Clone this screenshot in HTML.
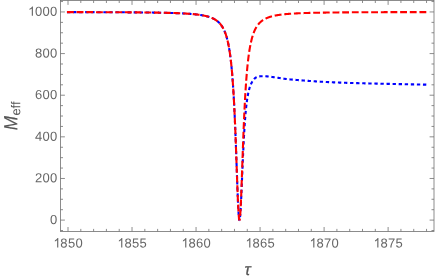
<!DOCTYPE html>
<html><head><meta charset="utf-8"><title>plot</title>
<style>
html,body{margin:0;padding:0;background:#fff;}
body{width:436px;height:280px;overflow:hidden;}
svg{display:block;font-family:"Liberation Sans",sans-serif;will-change:transform;}
</style></head><body>
<svg width="436" height="280" viewBox="0 0 436 280">
<rect width="436" height="280" fill="#fff"/>
<g fill="none" stroke-linecap="butt" stroke-linejoin="round">
<path d="M66.95,12.11 L67.21,12.11 L67.47,12.11 L67.73,12.11 L67.99,12.11 L68.25,12.11 L68.51,12.11 L68.77,12.11 L69.03,12.11 L69.29,12.11 L69.55,12.11 L69.81,12.11 L70.07,12.11 L70.33,12.11 L70.59,12.11 L70.85,12.12 L71.11,12.12 L71.37,12.12 L71.63,12.12 L71.89,12.12 L72.15,12.12 L72.41,12.12 L72.67,12.12 L72.93,12.12 L73.19,12.12 L73.45,12.12 L73.71,12.12 L73.97,12.12 L74.23,12.12 L74.49,12.12 L74.75,12.12 L75.01,12.12 L75.27,12.12 L75.53,12.12 L75.79,12.13 L76.05,12.13 L76.31,12.13 L76.57,12.13 L76.83,12.13 L77.09,12.13 L77.35,12.13 L77.61,12.13 L77.87,12.13 L78.13,12.13 L78.39,12.13 L78.65,12.13 L78.91,12.13 L79.17,12.13 L79.43,12.13 L79.69,12.13 L79.95,12.13 L80.21,12.14 L80.47,12.14 L80.73,12.14 L80.99,12.14 L81.25,12.14 L81.51,12.14 L81.77,12.14 L82.03,12.14 L82.29,12.14 L82.55,12.14 L82.81,12.14 L83.07,12.14 L83.33,12.14 L83.59,12.14 L83.85,12.14 L84.11,12.14 L84.37,12.15 L84.63,12.15 L84.89,12.15 L85.15,12.15 L85.41,12.15 L85.67,12.15 L85.93,12.15 L86.19,12.15 L86.45,12.15 L86.71,12.15 L86.97,12.15 L87.23,12.15 L87.49,12.15 L87.75,12.15 L88.01,12.15 L88.27,12.16 L88.53,12.16 L88.79,12.16 L89.05,12.16 L89.31,12.16 L89.57,12.16 L89.83,12.16 L90.09,12.16 L90.35,12.16 L90.61,12.16 L90.87,12.16 L91.13,12.16 L91.39,12.16 L91.65,12.16 L91.91,12.17 L92.17,12.17 L92.43,12.17 L92.69,12.17 L92.95,12.17 L93.21,12.17 L93.47,12.17 L93.73,12.17 L93.99,12.17 L94.25,12.17 L94.51,12.17 L94.77,12.17 L95.03,12.17 L95.29,12.18 L95.55,12.18 L95.81,12.18 L96.07,12.18 L96.33,12.18 L96.59,12.18 L96.85,12.18 L97.11,12.18 L97.37,12.18 L97.63,12.18 L97.89,12.18 L98.15,12.18 L98.41,12.19 L98.67,12.19 L98.93,12.19 L99.19,12.19 L99.45,12.19 L99.71,12.19 L99.97,12.19 L100.23,12.19 L100.49,12.19 L100.75,12.19 L101.01,12.19 L101.27,12.20 L101.53,12.20 L101.79,12.20 L102.05,12.20 L102.31,12.20 L102.57,12.20 L102.83,12.20 L103.09,12.20 L103.35,12.20 L103.61,12.20 L103.87,12.21 L104.13,12.21 L104.39,12.21 L104.65,12.21 L104.91,12.21 L105.17,12.21 L105.43,12.21 L105.69,12.21 L105.95,12.21 L106.21,12.21 L106.47,12.22 L106.73,12.22 L106.99,12.22 L107.25,12.22 L107.51,12.22 L107.77,12.22 L108.03,12.22 L108.29,12.22 L108.55,12.22 L108.81,12.22 L109.07,12.23 L109.33,12.23 L109.59,12.23 L109.85,12.23 L110.10,12.23 L110.36,12.23 L110.62,12.23 L110.88,12.23 L111.14,12.23 L111.40,12.24 L111.66,12.24 L111.92,12.24 L112.18,12.24 L112.44,12.24 L112.70,12.24 L112.96,12.24 L113.22,12.24 L113.48,12.25 L113.74,12.25 L114.00,12.25 L114.26,12.25 L114.52,12.25 L114.78,12.25 L115.04,12.25 L115.30,12.25 L115.56,12.26 L115.82,12.26 L116.08,12.26 L116.34,12.26 L116.60,12.26 L116.86,12.26 L117.12,12.26 L117.38,12.26 L117.64,12.27 L117.90,12.27 L118.16,12.27 L118.42,12.27 L118.68,12.27 L118.94,12.27 L119.20,12.27 L119.46,12.28 L119.72,12.28 L119.98,12.28 L120.24,12.28 L120.50,12.28 L120.76,12.28 L121.02,12.28 L121.28,12.29 L121.54,12.29 L121.80,12.29 L122.06,12.29 L122.32,12.29 L122.58,12.29 L122.84,12.29 L123.10,12.30 L123.36,12.30 L123.62,12.30 L123.88,12.30 L124.14,12.30 L124.40,12.30 L124.66,12.31 L124.92,12.31 L125.18,12.31 L125.44,12.31 L125.70,12.31 L125.96,12.31 L126.22,12.32 L126.48,12.32 L126.74,12.32 L127.00,12.32 L127.26,12.32 L127.52,12.32 L127.78,12.33 L128.04,12.33 L128.30,12.33 L128.56,12.33 L128.82,12.33 L129.08,12.33 L129.34,12.34 L129.60,12.34 L129.86,12.34 L130.12,12.34 L130.38,12.34 L130.64,12.35 L130.90,12.35 L131.16,12.35 L131.42,12.35 L131.68,12.35 L131.94,12.36 L132.20,12.36 L132.46,12.36 L132.72,12.36 L132.98,12.36 L133.24,12.37 L133.50,12.37 L133.76,12.37 L134.02,12.37 L134.28,12.37 L134.54,12.38 L134.80,12.38 L135.06,12.38 L135.32,12.38 L135.58,12.38 L135.84,12.39 L136.10,12.39 L136.36,12.39 L136.62,12.39 L136.88,12.40 L137.14,12.40 L137.40,12.40 L137.66,12.40 L137.92,12.40 L138.18,12.41 L138.44,12.41 L138.70,12.41 L138.96,12.41 L139.22,12.42 L139.48,12.42 L139.74,12.42 L140.00,12.42 L140.26,12.43 L140.52,12.43 L140.78,12.43 L141.04,12.43 L141.30,12.44 L141.56,12.44 L141.82,12.44 L142.08,12.44 L142.34,12.45 L142.60,12.45 L142.86,12.45 L143.12,12.45 L143.38,12.46 L143.64,12.46 L143.90,12.46 L144.16,12.47 L144.42,12.47 L144.68,12.47 L144.94,12.47 L145.20,12.48 L145.46,12.48 L145.72,12.48 L145.98,12.49 L146.24,12.49 L146.50,12.49 L146.76,12.50 L147.02,12.50 L147.28,12.50 L147.54,12.50 L147.80,12.51 L148.06,12.51 L148.32,12.51 L148.58,12.52 L148.84,12.52 L149.10,12.52 L149.36,12.53 L149.62,12.53 L149.88,12.53 L150.14,12.54 L150.40,12.54 L150.66,12.54 L150.92,12.55 L151.18,12.55 L151.44,12.55 L151.70,12.56 L151.96,12.56 L152.22,12.57 L152.48,12.57 L152.74,12.57 L153.00,12.58 L153.26,12.58 L153.52,12.58 L153.78,12.59 L154.04,12.59 L154.30,12.60 L154.56,12.60 L154.82,12.60 L155.08,12.61 L155.34,12.61 L155.60,12.62 L155.86,12.62 L156.12,12.62 L156.38,12.63 L156.64,12.63 L156.90,12.64 L157.16,12.64 L157.42,12.65 L157.68,12.65 L157.94,12.65 L158.20,12.66 L158.46,12.66 L158.72,12.67 L158.98,12.67 L159.24,12.68 L159.50,12.68 L159.76,12.69 L160.02,12.69 L160.28,12.70 L160.54,12.70 L160.80,12.71 L161.06,12.71 L161.32,12.72 L161.58,12.72 L161.84,12.73 L162.10,12.73 L162.36,12.74 L162.62,12.74 L162.88,12.75 L163.14,12.75 L163.40,12.76 L163.66,12.76 L163.92,12.77 L164.18,12.78 L164.44,12.78 L164.70,12.79 L164.96,12.79 L165.22,12.80 L165.48,12.80 L165.74,12.81 L166.00,12.82 L166.26,12.82 L166.52,12.83 L166.78,12.84 L167.04,12.84 L167.30,12.85 L167.56,12.85 L167.82,12.86 L168.08,12.87 L168.34,12.87 L168.60,12.88 L168.86,12.89 L169.12,12.90 L169.38,12.90 L169.64,12.91 L169.90,12.92 L170.16,12.92 L170.42,12.93 L170.68,12.94 L170.94,12.95 L171.20,12.95 L171.46,12.96 L171.72,12.97 L171.98,12.98 L172.24,12.98 L172.50,12.99 L172.76,13.00 L173.02,13.01 L173.28,13.02 L173.54,13.03 L173.80,13.03 L174.06,13.04 L174.32,13.05 L174.58,13.06 L174.84,13.07 L175.10,13.08 L175.36,13.09 L175.62,13.10 L175.88,13.11 L176.14,13.12 L176.40,13.12 L176.66,13.13 L176.92,13.14 L177.18,13.15 L177.44,13.16 L177.70,13.17 L177.96,13.18 L178.22,13.20 L178.48,13.21 L178.74,13.22 L179.00,13.23 L179.24,13.24 L179.48,13.25 L179.72,13.26 L179.96,13.27 L180.20,13.28 L180.44,13.29 L180.68,13.30 L180.92,13.31 L181.16,13.32 L181.40,13.33 L181.64,13.35 L181.88,13.36 L182.12,13.37 L182.36,13.38 L182.60,13.39 L182.84,13.41 L183.08,13.42 L183.32,13.43 L183.56,13.44 L183.80,13.46 L184.04,13.47 L184.28,13.48 L184.52,13.49 L184.76,13.51 L185.00,13.52 L185.24,13.54 L185.48,13.55 L185.72,13.56 L185.96,13.58 L186.20,13.59 L186.44,13.61 L186.68,13.62 L186.92,13.64 L187.16,13.65 L187.40,13.67 L187.64,13.68 L187.88,13.70 L188.12,13.72 L188.36,13.73 L188.60,13.75 L188.84,13.77 L189.08,13.78 L189.32,13.80 L189.56,13.82 L189.80,13.84 L190.04,13.86 L190.28,13.87 L190.52,13.89 L190.76,13.91 L191.00,13.93 L191.24,13.95 L191.48,13.97 L191.72,13.99 L191.96,14.01 L192.20,14.03 L192.44,14.05 L192.68,14.07 L192.92,14.10 L193.16,14.12 L193.40,14.14 L193.64,14.16 L193.88,14.19 L194.12,14.21 L194.36,14.23 L194.60,14.26 L194.84,14.28 L195.08,14.31 L195.32,14.33 L195.56,14.36 L195.80,14.39 L196.04,14.41 L196.28,14.44 L196.51,14.47 L196.75,14.49 L196.99,14.52 L197.23,14.55 L197.47,14.58 L197.71,14.61 L197.95,14.64 L198.19,14.67 L198.43,14.70 L198.67,14.74 L198.91,14.77 L199.13,14.80 L199.35,14.83 L199.57,14.86 L199.79,14.89 L200.01,14.93 L200.23,14.96 L200.45,14.99 L200.67,15.03 L200.89,15.06 L201.11,15.10 L201.33,15.13 L201.55,15.17 L201.77,15.21 L201.99,15.24 L202.21,15.28 L202.43,15.32 L202.65,15.36 L202.87,15.40 L203.09,15.44 L203.31,15.49 L203.53,15.53 L203.75,15.57 L203.97,15.62 L204.19,15.66 L204.41,15.71 L204.63,15.75 L204.85,15.80 L205.07,15.85 L205.29,15.90 L205.51,15.95 L205.73,16.00 L205.95,16.05 L206.17,16.11 L206.39,16.16 L206.59,16.21 L206.79,16.26 L206.99,16.31 L207.19,16.37 L207.39,16.42 L207.59,16.48 L207.79,16.53 L207.99,16.59 L208.19,16.65 L208.39,16.71 L208.59,16.77 L208.79,16.83 L208.99,16.89 L209.19,16.96 L209.39,17.02 L209.59,17.09 L209.79,17.16 L209.99,17.23 L210.19,17.30 L210.39,17.37 L210.59,17.44 L210.79,17.52 L210.99,17.59 L211.17,17.66 L211.35,17.73 L211.53,17.81 L211.71,17.88 L211.89,17.96 L212.07,18.03 L212.25,18.11 L212.43,18.19 L212.61,18.27 L212.79,18.36 L212.97,18.44 L213.15,18.53 L213.33,18.61 L213.51,18.70 L213.69,18.80 L213.87,18.89 L214.05,18.99 L214.23,19.08 L214.41,19.18 L214.57,19.27 L214.73,19.36 L214.89,19.46 L215.05,19.55 L215.21,19.65 L215.37,19.75 L215.53,19.85 L215.69,19.95 L215.85,20.06 L216.01,20.16 L216.17,20.27 L216.33,20.38 L216.49,20.50 L216.65,20.61 L216.81,20.73 L216.97,20.85 L217.13,20.97 L217.29,21.10 L217.43,21.21 L217.57,21.32 L217.71,21.44 L217.85,21.55 L217.99,21.67 L218.13,21.80 L218.27,21.92 L218.41,22.05 L218.55,22.18 L218.69,22.31 L218.83,22.44 L218.97,22.58 L219.11,22.72 L219.25,22.86 L219.39,23.00 L219.53,23.15 L219.67,23.30 L219.79,23.43 L219.91,23.57 L220.03,23.70 L220.15,23.84 L220.27,23.98 L220.39,24.12 L220.51,24.27 L220.63,24.42 L220.75,24.57 L220.87,24.72 L220.99,24.88 L221.11,25.04 L221.23,25.20 L221.35,25.36 L221.47,25.53 L221.59,25.70 L221.71,25.88 L221.83,26.06 L221.93,26.21 L222.03,26.36 L222.13,26.51 L222.23,26.67 L222.33,26.83 L222.43,26.99 L222.53,27.16 L222.63,27.33 L222.73,27.50 L222.83,27.67 L222.93,27.85 L223.03,28.03 L223.13,28.21 L223.23,28.39 L223.33,28.58 L223.43,28.77 L223.53,28.97 L223.63,29.17 L223.73,29.37 L223.83,29.57 L223.93,29.78 L224.03,29.99 L224.11,30.17 L224.19,30.34 L224.27,30.52 L224.35,30.70 L224.43,30.88 L224.51,31.06 L224.59,31.25 L224.67,31.44 L224.75,31.63 L224.83,31.83 L224.91,32.03 L224.99,32.23 L225.07,32.43 L225.15,32.64 L225.23,32.85 L225.31,33.06 L225.39,33.28 L225.47,33.50 L225.55,33.72 L225.63,33.95 L225.71,34.18 L225.79,34.41 L225.87,34.64 L225.95,34.88 L226.03,35.13 L226.11,35.38 L226.19,35.63 L226.25,35.82 L226.31,36.01 L226.37,36.21 L226.43,36.40 L226.49,36.60 L226.55,36.81 L226.61,37.01 L226.67,37.22 L226.73,37.43 L226.79,37.64 L226.85,37.86 L226.91,38.07 L226.97,38.29 L227.03,38.52 L227.09,38.74 L227.15,38.97 L227.21,39.20 L227.27,39.43 L227.33,39.67 L227.39,39.91 L227.45,40.15 L227.51,40.40 L227.57,40.65 L227.63,40.90 L227.69,41.15 L227.75,41.41 L227.81,41.67 L227.87,41.93 L227.93,42.20 L227.99,42.47 L228.05,42.75 L228.11,43.03 L228.17,43.31 L228.23,43.59 L228.29,43.88 L228.35,44.17 L228.41,44.47 L228.47,44.77 L228.53,45.07 L228.59,45.38 L228.65,45.69 L228.69,45.90 L228.73,46.12 L228.77,46.33 L228.81,46.55 L228.85,46.76 L228.89,46.98 L228.93,47.21 L228.97,47.43 L229.01,47.66 L229.05,47.88 L229.09,48.11 L229.13,48.34 L229.17,48.58 L229.21,48.81 L229.25,49.05 L229.29,49.29 L229.33,49.54 L229.37,49.78 L229.41,50.03 L229.45,50.28 L229.49,50.53 L229.53,50.78 L229.57,51.04 L229.61,51.29 L229.65,51.56 L229.69,51.82 L229.73,52.08 L229.77,52.35 L229.81,52.62 L229.85,52.89 L229.89,53.17 L229.93,53.45 L229.97,53.73 L230.01,54.01 L230.05,54.30 L230.09,54.59 L230.13,54.88 L230.17,55.17 L230.21,55.47 L230.25,55.77 L230.29,56.07 L230.33,56.37 L230.37,56.68 L230.41,56.99 L230.45,57.31 L230.49,57.62 L230.53,57.94 L230.57,58.27 L230.61,58.59 L230.65,58.92 L230.69,59.25 L230.73,59.59 L230.77,59.93 L230.81,60.27 L230.85,60.61 L230.89,60.96 L230.93,61.31 L230.97,61.67 L231.01,62.03 L231.05,62.39 L231.09,62.76 L231.13,63.13 L231.17,63.50 L231.21,63.88 L231.25,64.26 L231.29,64.64 L231.33,65.03 L231.37,65.42 L231.41,65.81 L231.45,66.21 L231.49,66.62 L231.53,67.02 L231.57,67.43 L231.61,67.85 L231.65,68.27 L231.69,68.69 L231.73,69.12 L231.77,69.55 L231.81,69.99 L231.85,70.43 L231.89,70.87 L231.93,71.32 L231.97,71.78 L232.01,72.23 L232.03,72.47 L232.05,72.70 L232.07,72.93 L232.09,73.16 L232.11,73.40 L232.13,73.64 L232.15,73.87 L232.17,74.11 L232.19,74.35 L232.21,74.60 L232.23,74.84 L232.25,75.08 L232.27,75.33 L232.29,75.57 L232.31,75.82 L232.33,76.07 L232.35,76.32 L232.37,76.57 L232.39,76.82 L232.41,77.08 L232.43,77.33 L232.45,77.59 L232.47,77.84 L232.49,78.10 L232.51,78.36 L232.53,78.62 L232.55,78.89 L232.57,79.15 L232.59,79.42 L232.61,79.68 L232.63,79.95 L232.65,80.22 L232.67,80.49 L232.69,80.76 L232.71,81.04 L232.73,81.31 L232.75,81.59 L232.77,81.86 L232.79,82.14 L232.81,82.42 L232.83,82.70 L232.85,82.99 L232.87,83.27 L232.89,83.56 L232.91,83.84 L232.93,84.13 L232.95,84.42 L232.97,84.71 L232.99,85.01 L233.01,85.30 L233.03,85.60 L233.05,85.89 L233.07,86.19 L233.09,86.49 L233.11,86.79 L233.13,87.10 L233.15,87.40 L233.17,87.71 L233.19,88.02 L233.21,88.33 L233.23,88.64 L233.25,88.95 L233.27,89.26 L233.29,89.58 L233.31,89.89 L233.33,90.21 L233.35,90.53 L233.37,90.85 L233.39,91.18 L233.41,91.50 L233.43,91.83 L233.45,92.16 L233.47,92.49 L233.49,92.82 L233.51,93.15 L233.53,93.48 L233.55,93.82 L233.57,94.16 L233.59,94.50 L233.61,94.84 L233.63,95.18 L233.65,95.52 L233.67,95.87 L233.69,96.22 L233.71,96.57 L233.73,96.92 L233.75,97.27 L233.77,97.62 L233.79,97.98 L233.81,98.34 L233.83,98.70 L233.85,99.06 L233.87,99.42 L233.89,99.78 L233.91,100.15 L233.93,100.52 L233.95,100.89 L233.97,101.26 L233.99,101.63 L234.01,102.01 L234.03,102.38 L234.05,102.76 L234.07,103.14 L234.09,103.52 L234.11,103.91 L234.13,104.29 L234.15,104.68 L234.17,105.07 L234.19,105.46 L234.21,105.85 L234.23,106.25 L234.25,106.64 L234.27,107.04 L234.29,107.44 L234.31,107.84 L234.33,108.24 L234.35,108.65 L234.37,109.06 L234.39,109.47 L234.41,109.88 L234.43,110.29 L234.45,110.70 L234.47,111.12 L234.49,111.54 L234.51,111.96 L234.53,112.38 L234.55,112.80 L234.57,113.23 L234.59,113.65 L234.61,114.08 L234.63,114.51 L234.65,114.95 L234.67,115.38 L234.69,115.82 L234.71,116.26 L234.73,116.70 L234.75,117.14 L234.77,117.58 L234.79,118.03 L234.81,118.48 L234.83,118.92 L234.85,119.38 L234.87,119.83 L234.89,120.28 L234.91,120.74 L234.93,121.20 L234.95,121.66 L234.97,122.12 L234.99,122.58 L235.01,123.05 L235.03,123.52 L235.05,123.99 L235.07,124.46 L235.09,124.93 L235.11,125.41 L235.13,125.88 L235.15,126.36 L235.17,126.84 L235.19,127.32 L235.21,127.81 L235.23,128.29 L235.25,128.78 L235.27,129.27 L235.29,129.76 L235.31,130.25 L235.33,130.75 L235.35,131.24 L235.37,131.74 L235.39,132.24 L235.41,132.74 L235.43,133.24 L235.45,133.75 L235.47,134.25 L235.49,134.76 L235.51,135.27 L235.53,135.78 L235.55,136.30 L235.57,136.81 L235.59,137.33 L235.61,137.84 L235.63,138.36 L235.65,138.88 L235.67,139.40 L235.69,139.93 L235.71,140.45 L235.73,140.98 L235.75,141.51 L235.77,142.04 L235.79,142.57 L235.81,143.10 L235.83,143.63 L235.85,144.17 L235.87,144.71 L235.89,145.24 L235.91,145.78 L235.93,146.32 L235.95,146.87 L235.97,147.41 L235.99,147.95 L236.01,148.50 L236.03,149.05 L236.05,149.59 L236.07,150.14 L236.09,150.69 L236.11,151.24 L236.13,151.80 L236.15,152.35 L236.17,152.90 L236.19,153.46 L236.21,154.02 L236.23,154.57 L236.25,155.13 L236.27,155.69 L236.29,156.25 L236.31,156.81 L236.33,157.37 L236.35,157.94 L236.37,158.50 L236.39,159.06 L236.41,159.63 L236.43,160.19 L236.45,160.76 L236.47,161.32 L236.49,161.89 L236.51,162.46 L236.53,163.02 L236.55,163.59 L236.57,164.16 L236.59,164.73 L236.61,165.30 L236.63,165.86 L236.65,166.43 L236.67,167.00 L236.69,167.57 L236.71,168.14 L236.73,168.71 L236.75,169.28 L236.77,169.85 L236.79,170.42 L236.81,170.99 L236.83,171.55 L236.85,172.12 L236.87,172.69 L236.89,173.26 L236.91,173.82 L236.93,174.39 L236.95,174.96 L236.97,175.52 L236.99,176.09 L237.01,176.65 L237.03,177.21 L237.05,177.78 L237.07,178.34 L237.09,178.90 L237.11,179.46 L237.13,180.02 L237.15,180.57 L237.17,181.13 L237.19,181.69 L237.21,182.24 L237.23,182.79 L237.25,183.34 L237.27,183.89 L237.29,184.44 L237.31,184.99 L237.33,185.53 L237.35,186.07 L237.37,186.62 L237.39,187.15 L237.41,187.69 L237.43,188.23 L237.45,188.76 L237.47,189.29 L237.49,189.82 L237.51,190.35 L237.53,190.87 L237.55,191.40 L237.57,191.92 L237.59,192.43 L237.61,192.95 L237.63,193.46 L237.65,193.97 L237.67,194.47 L237.69,194.98 L237.71,195.48 L237.73,195.98 L237.75,196.47 L237.77,196.96 L237.79,197.45 L237.81,197.93 L237.83,198.42 L237.85,198.89 L237.87,199.37 L237.89,199.84 L237.91,200.31 L237.93,200.77 L237.95,201.23 L237.97,201.68 L237.99,202.14 L238.01,202.58 L238.03,203.03 L238.05,203.47 L238.07,203.90 L238.09,204.33 L238.11,204.76 L238.13,205.18 L238.15,205.60 L238.17,206.01 L238.19,206.42 L238.21,206.82 L238.23,207.22 L238.25,207.62 L238.27,208.00 L238.29,208.39 L238.31,208.77 L238.33,209.14 L238.35,209.51 L238.37,209.87 L238.39,210.23 L238.41,210.58 L238.43,210.93 L238.45,211.27 L238.47,211.60 L238.49,211.93 L238.51,212.26 L238.53,212.58 L238.55,212.89 L238.57,213.19 L238.59,213.49 L238.61,213.79 L238.63,214.08 L238.65,214.36 L238.67,214.64 L238.69,214.91 L238.71,215.17 L238.73,215.43 L238.75,215.68 L238.77,215.92 L238.79,216.16 L238.81,216.39 L238.85,216.83 L238.89,217.25 L238.93,217.64 L238.97,218.00 L239.01,218.33 L239.05,218.63 L239.09,218.91 L239.13,219.16 L239.17,219.38 L239.23,219.65 L239.29,219.86 L239.37,220.04 L239.45,220.10" stroke="#0000ff" stroke-width="2.1" stroke-dasharray="3.35 2.713"/>
<path d="M426.30,84.67 L426.04,84.66 L425.78,84.66 L425.52,84.65 L425.26,84.65 L425.00,84.64 L424.74,84.64 L424.48,84.63 L424.22,84.63 L423.96,84.62 L423.70,84.62 L423.44,84.61 L423.18,84.61 L422.92,84.60 L422.66,84.60 L422.40,84.59 L422.14,84.59 L421.88,84.58 L421.62,84.58 L421.36,84.57 L421.10,84.57 L420.84,84.56 L420.58,84.56 L420.32,84.55 L420.06,84.55 L419.80,84.54 L419.54,84.54 L419.28,84.53 L419.02,84.53 L418.76,84.52 L418.50,84.52 L418.24,84.51 L417.98,84.51 L417.72,84.50 L417.46,84.50 L417.20,84.49 L416.94,84.49 L416.68,84.48 L416.42,84.48 L416.16,84.47 L415.90,84.47 L415.64,84.46 L415.38,84.45 L415.12,84.45 L414.86,84.44 L414.60,84.44 L414.34,84.43 L414.08,84.43 L413.82,84.42 L413.56,84.42 L413.30,84.41 L413.04,84.41 L412.78,84.40 L412.52,84.40 L412.26,84.39 L412.00,84.39 L411.74,84.38 L411.48,84.37 L411.22,84.37 L410.96,84.36 L410.70,84.36 L410.44,84.35 L410.18,84.35 L409.92,84.34 L409.66,84.34 L409.40,84.33 L409.14,84.32 L408.88,84.32 L408.62,84.31 L408.36,84.31 L408.10,84.30 L407.84,84.30 L407.58,84.29 L407.32,84.29 L407.06,84.28 L406.80,84.28 L406.54,84.27 L406.28,84.26 L406.02,84.26 L405.76,84.25 L405.50,84.25 L405.24,84.24 L404.98,84.24 L404.72,84.23 L404.46,84.22 L404.20,84.22 L403.94,84.21 L403.68,84.21 L403.42,84.20 L403.16,84.20 L402.90,84.19 L402.64,84.18 L402.38,84.18 L402.12,84.17 L401.86,84.17 L401.60,84.16 L401.34,84.16 L401.08,84.15 L400.82,84.14 L400.56,84.14 L400.30,84.13 L400.04,84.13 L399.78,84.12 L399.52,84.12 L399.26,84.11 L399.00,84.10 L398.74,84.10 L398.48,84.09 L398.22,84.09 L397.96,84.08 L397.70,84.07 L397.44,84.07 L397.18,84.06 L396.92,84.06 L396.66,84.05 L396.40,84.05 L396.14,84.04 L395.88,84.03 L395.62,84.03 L395.36,84.02 L395.10,84.02 L394.84,84.01 L394.58,84.00 L394.32,84.00 L394.06,83.99 L393.80,83.99 L393.54,83.98 L393.28,83.97 L393.02,83.97 L392.76,83.96 L392.50,83.96 L392.24,83.95 L391.98,83.94 L391.72,83.94 L391.46,83.93 L391.20,83.93 L390.94,83.92 L390.68,83.91 L390.42,83.91 L390.16,83.90 L389.90,83.90 L389.64,83.89 L389.38,83.88 L389.12,83.88 L388.86,83.87 L388.60,83.86 L388.34,83.86 L388.08,83.85 L387.82,83.85 L387.56,83.84 L387.30,83.84 L387.04,83.83 L386.78,83.82 L386.52,83.82 L386.26,83.81 L386.00,83.81 L385.74,83.80 L385.48,83.79 L385.22,83.79 L384.96,83.78 L384.70,83.78 L384.44,83.77 L384.18,83.77 L383.92,83.76 L383.66,83.75 L383.40,83.75 L383.14,83.74 L382.88,83.74 L382.62,83.73 L382.36,83.72 L382.10,83.72 L381.84,83.71 L381.58,83.71 L381.32,83.70 L381.06,83.70 L380.80,83.69 L380.54,83.69 L380.28,83.68 L380.02,83.67 L379.76,83.67 L379.50,83.66 L379.24,83.66 L378.98,83.65 L378.72,83.65 L378.46,83.64 L378.20,83.63 L377.94,83.63 L377.68,83.62 L377.42,83.62 L377.16,83.61 L376.90,83.61 L376.64,83.60 L376.38,83.59 L376.12,83.59 L375.86,83.58 L375.60,83.58 L375.34,83.57 L375.08,83.57 L374.82,83.56 L374.56,83.56 L374.30,83.55 L374.04,83.54 L373.78,83.54 L373.52,83.53 L373.26,83.53 L373.00,83.52 L372.74,83.52 L372.48,83.51 L372.22,83.50 L371.96,83.50 L371.70,83.49 L371.44,83.49 L371.18,83.48 L370.92,83.48 L370.66,83.47 L370.40,83.46 L370.14,83.46 L369.88,83.45 L369.62,83.45 L369.36,83.44 L369.10,83.43 L368.84,83.43 L368.58,83.42 L368.32,83.42 L368.06,83.41 L367.80,83.41 L367.54,83.40 L367.28,83.39 L367.02,83.39 L366.76,83.38 L366.50,83.38 L366.24,83.37 L365.98,83.36 L365.72,83.36 L365.46,83.35 L365.20,83.35 L364.94,83.34 L364.68,83.33 L364.42,83.33 L364.16,83.32 L363.90,83.31 L363.64,83.31 L363.38,83.30 L363.12,83.30 L362.86,83.29 L362.60,83.28 L362.34,83.28 L362.08,83.27 L361.82,83.26 L361.56,83.26 L361.30,83.25 L361.04,83.24 L360.78,83.24 L360.52,83.23 L360.26,83.23 L360.00,83.22 L359.74,83.21 L359.48,83.21 L359.22,83.20 L358.96,83.19 L358.70,83.19 L358.44,83.18 L358.18,83.17 L357.92,83.17 L357.66,83.16 L357.40,83.15 L357.14,83.15 L356.88,83.14 L356.62,83.13 L356.36,83.12 L356.10,83.12 L355.84,83.11 L355.58,83.10 L355.32,83.10 L355.06,83.09 L354.80,83.08 L354.54,83.08 L354.28,83.07 L354.02,83.06 L353.76,83.05 L353.50,83.05 L353.24,83.04 L352.98,83.03 L352.72,83.02 L352.46,83.02 L352.20,83.01 L351.94,83.00 L351.68,82.99 L351.42,82.99 L351.16,82.98 L350.90,82.97 L350.64,82.96 L350.38,82.96 L350.12,82.95 L349.86,82.94 L349.60,82.93 L349.34,82.92 L349.08,82.92 L348.82,82.91 L348.56,82.90 L348.30,82.89 L348.04,82.88 L347.78,82.88 L347.52,82.87 L347.26,82.86 L347.00,82.85 L346.74,82.84 L346.48,82.84 L346.22,82.83 L345.96,82.82 L345.70,82.81 L345.44,82.80 L345.18,82.79 L344.92,82.78 L344.66,82.78 L344.40,82.77 L344.14,82.76 L343.88,82.75 L343.62,82.74 L343.36,82.73 L343.10,82.72 L342.84,82.71 L342.58,82.70 L342.32,82.70 L342.06,82.69 L341.80,82.68 L341.54,82.67 L341.28,82.66 L341.02,82.65 L340.76,82.64 L340.50,82.63 L340.24,82.62 L339.98,82.61 L339.72,82.60 L339.46,82.59 L339.20,82.58 L338.94,82.57 L338.68,82.56 L338.42,82.55 L338.16,82.54 L337.90,82.53 L337.64,82.52 L337.38,82.51 L337.12,82.50 L336.86,82.49 L336.60,82.48 L336.34,82.47 L336.08,82.46 L335.82,82.45 L335.56,82.44 L335.30,82.43 L335.06,82.42 L334.82,82.41 L334.58,82.40 L334.34,82.39 L334.10,82.38 L333.86,82.37 L333.62,82.36 L333.38,82.34 L333.14,82.33 L332.90,82.32 L332.67,82.31 L332.43,82.30 L332.19,82.29 L331.95,82.28 L331.71,82.27 L331.47,82.26 L331.23,82.25 L330.99,82.24 L330.75,82.22 L330.51,82.21 L330.27,82.20 L330.03,82.19 L329.79,82.18 L329.55,82.17 L329.31,82.16 L329.07,82.14 L328.83,82.13 L328.59,82.12 L328.35,82.11 L328.11,82.10 L327.87,82.09 L327.63,82.07 L327.39,82.06 L327.15,82.05 L326.91,82.04 L326.67,82.02 L326.43,82.01 L326.19,82.00 L325.95,81.99 L325.71,81.97 L325.47,81.96 L325.23,81.95 L324.99,81.94 L324.75,81.92 L324.51,81.91 L324.27,81.90 L324.03,81.88 L323.79,81.87 L323.55,81.86 L323.31,81.84 L323.07,81.83 L322.83,81.82 L322.59,81.80 L322.35,81.79 L322.11,81.78 L321.87,81.76 L321.63,81.75 L321.39,81.74 L321.15,81.72 L320.91,81.71 L320.67,81.69 L320.43,81.68 L320.19,81.67 L319.95,81.65 L319.71,81.64 L319.47,81.62 L319.23,81.61 L318.99,81.59 L318.75,81.58 L318.51,81.56 L318.27,81.55 L318.03,81.54 L317.79,81.52 L317.55,81.51 L317.31,81.49 L317.07,81.48 L316.83,81.46 L316.59,81.44 L316.35,81.43 L316.11,81.41 L315.87,81.40 L315.63,81.38 L315.39,81.37 L315.15,81.35 L314.91,81.34 L314.67,81.32 L314.43,81.31 L314.19,81.29 L313.95,81.27 L313.71,81.26 L313.47,81.24 L313.23,81.23 L312.99,81.21 L312.75,81.19 L312.51,81.18 L312.27,81.16 L312.03,81.14 L311.79,81.13 L311.55,81.11 L311.31,81.09 L311.07,81.08 L310.83,81.06 L310.59,81.04 L310.35,81.03 L310.11,81.01 L309.87,80.99 L309.63,80.98 L309.39,80.96 L309.15,80.94 L308.91,80.92 L308.67,80.91 L308.43,80.89 L308.19,80.87 L307.95,80.85 L307.71,80.84 L307.47,80.82 L307.23,80.80 L306.99,80.78 L306.75,80.77 L306.51,80.75 L306.27,80.73 L306.03,80.71 L305.79,80.69 L305.55,80.68 L305.31,80.66 L305.07,80.64 L304.83,80.62 L304.59,80.60 L304.35,80.58 L304.11,80.57 L303.87,80.55 L303.63,80.53 L303.39,80.51 L303.15,80.49 L302.91,80.47 L302.67,80.45 L302.43,80.44 L302.19,80.42 L301.95,80.40 L301.71,80.38 L301.47,80.36 L301.23,80.34 L300.99,80.32 L300.75,80.30 L300.51,80.28 L300.27,80.26 L300.03,80.25 L299.79,80.23 L299.55,80.21 L299.31,80.19 L299.07,80.17 L298.83,80.15 L298.59,80.13 L298.35,80.11 L298.11,80.09 L297.87,80.07 L297.63,80.05 L297.39,80.03 L297.15,80.01 L296.91,79.99 L296.67,79.97 L296.43,79.95 L296.19,79.93 L295.95,79.91 L295.71,79.89 L295.47,79.87 L295.23,79.85 L294.99,79.83 L294.75,79.82 L294.51,79.80 L294.27,79.78 L294.03,79.76 L293.79,79.74 L293.55,79.72 L293.31,79.70 L293.07,79.68 L292.83,79.66 L292.59,79.64 L292.35,79.62 L292.11,79.60 L291.87,79.58 L291.63,79.56 L291.39,79.54 L291.15,79.52 L290.91,79.50 L290.67,79.48 L290.43,79.46 L290.19,79.44 L289.95,79.42 L289.71,79.40 L289.47,79.38 L289.23,79.36 L288.99,79.34 L288.75,79.31 L288.51,79.29 L288.27,79.26 L288.03,79.24 L287.79,79.21 L287.55,79.18 L287.31,79.16 L287.07,79.13 L286.83,79.10 L286.59,79.07 L286.35,79.04 L286.11,79.01 L285.87,78.98 L285.63,78.94 L285.39,78.91 L285.17,78.88 L284.95,78.85 L284.73,78.82 L284.51,78.79 L284.29,78.76 L284.07,78.72 L283.85,78.69 L283.63,78.66 L283.41,78.63 L283.19,78.59 L282.97,78.56 L282.75,78.53 L282.53,78.49 L282.31,78.46 L282.09,78.43 L281.87,78.39 L281.65,78.36 L281.43,78.32 L281.21,78.29 L280.99,78.25 L280.77,78.22 L280.55,78.19 L280.33,78.15 L280.11,78.12 L279.89,78.08 L279.67,78.05 L279.45,78.01 L279.23,77.98 L279.01,77.95 L278.79,77.91 L278.57,77.88 L278.35,77.85 L278.13,77.81 L277.91,77.78 L277.69,77.75 L277.47,77.72 L277.25,77.68 L277.03,77.65 L276.81,77.62 L276.59,77.59 L276.37,77.56 L276.13,77.53 L275.89,77.50 L275.65,77.46 L275.41,77.43 L275.17,77.40 L274.95,77.37 L274.73,77.34 L274.51,77.31 L274.29,77.28 L274.07,77.25 L273.85,77.22 L273.63,77.19 L273.41,77.15 L273.19,77.12 L272.97,77.09 L272.75,77.06 L272.53,77.03 L272.31,77.00 L272.09,76.97 L271.87,76.94 L271.65,76.91 L271.41,76.88 L271.17,76.85 L270.93,76.81 L270.69,76.78 L270.45,76.75 L270.21,76.72 L269.97,76.69 L269.73,76.66 L269.49,76.63 L269.25,76.60 L269.01,76.57 L268.77,76.55 L268.53,76.52 L268.29,76.49 L268.05,76.47 L267.81,76.45 L267.57,76.42 L267.33,76.40 L267.09,76.38 L266.85,76.36 L266.61,76.34 L266.37,76.32 L266.13,76.30 L265.89,76.28 L265.65,76.27 L265.41,76.25 L265.17,76.24 L264.93,76.23 L264.69,76.22 L264.43,76.21 L264.17,76.20 L263.91,76.19 L263.65,76.18 L263.39,76.18 L263.13,76.18 L262.87,76.18 L262.61,76.18 L262.35,76.18 L262.09,76.19 L261.83,76.20 L261.59,76.21 L261.35,76.22 L261.11,76.24 L260.87,76.25 L260.63,76.27 L260.39,76.29 L260.15,76.31 L259.91,76.33 L259.67,76.35 L259.43,76.38 L259.19,76.41 L258.97,76.45 L258.75,76.49 L258.53,76.53 L258.31,76.57 L258.09,76.63 L257.89,76.68 L257.69,76.74 L257.49,76.80 L257.29,76.87 L257.09,76.94 L256.91,77.01 L256.73,77.09 L256.55,77.17 L256.37,77.26 L256.19,77.36 L256.03,77.45 L255.87,77.55 L255.71,77.65 L255.55,77.76 L255.39,77.88 L255.23,78.01 L255.09,78.12 L254.95,78.24 L254.81,78.37 L254.67,78.50 L254.53,78.64 L254.39,78.78 L254.25,78.93 L254.13,79.06 L254.01,79.20 L253.89,79.33 L253.77,79.48 L253.65,79.62 L253.53,79.78 L253.41,79.93 L253.29,80.09 L253.17,80.26 L253.05,80.42 L252.93,80.60 L252.81,80.77 L252.71,80.92 L252.61,81.08 L252.51,81.24 L252.41,81.40 L252.31,81.56 L252.21,81.73 L252.11,81.90 L252.01,82.08 L251.91,82.25 L251.81,82.44 L251.71,82.62 L251.61,82.81 L251.51,83.00 L251.41,83.20 L251.31,83.40 L251.21,83.60 L251.11,83.82 L251.03,83.99 L250.95,84.16 L250.87,84.34 L250.79,84.52 L250.71,84.71 L250.63,84.90 L250.55,85.09 L250.47,85.29 L250.39,85.49 L250.31,85.70 L250.23,85.91 L250.15,86.13 L250.07,86.35 L249.99,86.58 L249.91,86.81 L249.83,87.05 L249.75,87.29 L249.67,87.54 L249.61,87.73 L249.55,87.93 L249.49,88.12 L249.43,88.33 L249.37,88.53 L249.31,88.74 L249.25,88.95 L249.19,89.17 L249.13,89.39 L249.07,89.62 L249.01,89.85 L248.95,90.08 L248.89,90.32 L248.83,90.56 L248.77,90.81 L248.71,91.06 L248.65,91.32 L248.59,91.58 L248.53,91.85 L248.47,92.12 L248.41,92.40 L248.35,92.68 L248.29,92.97 L248.23,93.26 L248.17,93.56 L248.11,93.87 L248.05,94.18 L248.01,94.39 L247.97,94.61 L247.93,94.82 L247.89,95.04 L247.85,95.26 L247.81,95.48 L247.77,95.71 L247.73,95.93 L247.69,96.16 L247.65,96.39 L247.61,96.62 L247.57,96.86 L247.53,97.10 L247.49,97.34 L247.45,97.58 L247.41,97.82 L247.37,98.07 L247.33,98.32 L247.29,98.58 L247.25,98.84 L247.21,99.10 L247.17,99.36 L247.13,99.63 L247.09,99.90 L247.05,100.17 L247.01,100.45 L246.97,100.73 L246.93,101.01 L246.89,101.30 L246.85,101.59 L246.81,101.89 L246.77,102.18 L246.73,102.49 L246.69,102.79 L246.65,103.11 L246.61,103.42 L246.57,103.74 L246.53,104.06 L246.49,104.39 L246.45,104.72 L246.41,105.06 L246.37,105.40 L246.33,105.75 L246.29,106.10 L246.25,106.46 L246.21,106.82 L246.17,107.18 L246.13,107.55 L246.09,107.93 L246.05,108.31 L246.01,108.70 L245.97,109.09 L245.93,109.48 L245.89,109.89 L245.85,110.29 L245.81,110.71 L245.77,111.13 L245.73,111.55 L245.69,111.98 L245.65,112.42 L245.61,112.86 L245.57,113.31 L245.53,113.77 L245.49,114.23 L245.47,114.46 L245.45,114.70 L245.43,114.93 L245.41,115.17 L245.39,115.41 L245.37,115.65 L245.35,115.89 L245.33,116.14 L245.31,116.38 L245.29,116.63 L245.27,116.88 L245.25,117.13 L245.23,117.38 L245.21,117.63 L245.19,117.89 L245.17,118.15 L245.15,118.41 L245.13,118.67 L245.11,118.93 L245.09,119.19 L245.07,119.46 L245.05,119.73 L245.03,120.00 L245.01,120.27 L244.99,120.54 L244.97,120.81 L244.95,121.09 L244.93,121.37 L244.91,121.65 L244.89,121.93 L244.87,122.21 L244.85,122.50 L244.83,122.78 L244.81,123.07 L244.79,123.36 L244.77,123.66 L244.75,123.95 L244.73,124.24 L244.71,124.54 L244.69,124.84 L244.67,125.14 L244.65,125.45 L244.63,125.75 L244.61,126.06 L244.59,126.37 L244.57,126.68 L244.55,126.99 L244.53,127.30 L244.51,127.62 L244.49,127.93 L244.47,128.25 L244.45,128.57 L244.43,128.90 L244.41,129.22 L244.39,129.55 L244.37,129.88 L244.35,130.21 L244.33,130.54 L244.31,130.87 L244.29,131.21 L244.27,131.54 L244.25,131.88 L244.23,132.22 L244.21,132.56 L244.19,132.91 L244.17,133.25 L244.15,133.60 L244.13,133.95 L244.11,134.30 L244.09,134.66 L244.07,135.01 L244.05,135.37 L244.03,135.73 L244.01,136.09 L243.99,136.45 L243.97,136.81 L243.95,137.18 L243.93,137.55 L243.91,137.92 L243.89,138.29 L243.87,138.66 L243.85,139.03 L243.83,139.41 L243.81,139.79 L243.79,140.17 L243.77,140.55 L243.75,140.93 L243.73,141.32 L243.71,141.70 L243.69,142.09 L243.67,142.48 L243.65,142.88 L243.63,143.27 L243.61,143.66 L243.59,144.06 L243.57,144.46 L243.55,144.86 L243.53,145.26 L243.51,145.67 L243.49,146.07 L243.47,146.48 L243.45,146.89 L243.43,147.30 L243.41,147.71 L243.39,148.12 L243.37,148.54 L243.35,148.95 L243.33,149.37 L243.31,149.79 L243.29,150.21 L243.27,150.64 L243.25,151.06 L243.23,151.49 L243.21,151.92 L243.19,152.35 L243.17,152.78 L243.15,153.21 L243.13,153.64 L243.11,154.08 L243.09,154.51 L243.07,154.95 L243.05,155.39 L243.03,155.83 L243.01,156.27 L242.99,156.72 L242.97,157.16 L242.95,157.61 L242.93,158.05 L242.91,158.50 L242.89,158.95 L242.87,159.40 L242.85,159.86 L242.83,160.31 L242.81,160.76 L242.79,161.22 L242.77,161.68 L242.75,162.13 L242.73,162.59 L242.71,163.05 L242.69,163.52 L242.67,163.98 L242.65,164.44 L242.63,164.90 L242.61,165.37 L242.59,165.84 L242.57,166.30 L242.55,166.77 L242.53,167.24 L242.51,167.71 L242.49,168.18 L242.47,168.65 L242.45,169.12 L242.43,169.59 L242.41,170.07 L242.39,170.54 L242.37,171.02 L242.35,171.49 L242.33,171.97 L242.31,172.44 L242.29,172.92 L242.27,173.39 L242.25,173.87 L242.23,174.35 L242.21,174.83 L242.19,175.30 L242.17,175.78 L242.15,176.26 L242.13,176.74 L242.11,177.22 L242.09,177.70 L242.07,178.18 L242.05,178.65 L242.03,179.13 L242.01,179.61 L241.99,180.09 L241.97,180.57 L241.95,181.05 L241.93,181.52 L241.91,182.00 L241.89,182.48 L241.87,182.96 L241.85,183.43 L241.83,183.91 L241.81,184.38 L241.79,184.86 L241.77,185.33 L241.75,185.81 L241.73,186.28 L241.71,186.75 L241.69,187.22 L241.67,187.69 L241.65,188.16 L241.63,188.63 L241.61,189.10 L241.59,189.56 L241.57,190.03 L241.55,190.49 L241.53,190.95 L241.51,191.41 L241.49,191.87 L241.47,192.33 L241.45,192.79 L241.43,193.24 L241.41,193.69 L241.39,194.15 L241.37,194.60 L241.35,195.04 L241.33,195.49 L241.31,195.93 L241.29,196.38 L241.27,196.82 L241.25,197.25 L241.23,197.69 L241.21,198.12 L241.19,198.56 L241.17,198.98 L241.15,199.41 L241.13,199.83 L241.11,200.26 L241.09,200.67 L241.07,201.09 L241.05,201.50 L241.03,201.91 L241.01,202.32 L240.99,202.73 L240.97,203.13 L240.95,203.53 L240.93,203.92 L240.91,204.31 L240.89,204.70 L240.87,205.09 L240.85,205.47 L240.83,205.85 L240.81,206.22 L240.79,206.59 L240.77,206.96 L240.75,207.32 L240.73,207.68 L240.71,208.04 L240.69,208.39 L240.67,208.74 L240.65,209.08 L240.63,209.42 L240.61,209.76 L240.59,210.09 L240.57,210.41 L240.55,210.74 L240.53,211.06 L240.51,211.37 L240.49,211.68 L240.47,211.98 L240.45,212.28 L240.43,212.58 L240.41,212.87 L240.39,213.15 L240.37,213.43 L240.35,213.70 L240.33,213.97 L240.31,214.24 L240.29,214.50 L240.27,214.75 L240.25,215.00 L240.23,215.25 L240.21,215.48 L240.19,215.72 L240.15,216.16 L240.11,216.59 L240.07,216.99 L240.03,217.37 L239.99,217.73 L239.95,218.06 L239.91,218.37 L239.87,218.66 L239.83,218.92 L239.79,219.15 L239.73,219.45 L239.67,219.70 L239.59,219.94 L239.47,220.10 L239.45,220.10" stroke="#0000ff" stroke-width="2.1" stroke-dasharray="3.35 2.726"/>
<path d="M66.95,12.11 L67.21,12.11 L67.47,12.11 L67.73,12.11 L67.99,12.11 L68.25,12.11 L68.51,12.11 L68.77,12.11 L69.03,12.11 L69.29,12.11 L69.55,12.11 L69.81,12.11 L70.07,12.11 L70.33,12.11 L70.59,12.11 L70.85,12.12 L71.11,12.12 L71.37,12.12 L71.63,12.12 L71.89,12.12 L72.15,12.12 L72.41,12.12 L72.67,12.12 L72.93,12.12 L73.19,12.12 L73.45,12.12 L73.71,12.12 L73.97,12.12 L74.23,12.12 L74.49,12.12 L74.75,12.12 L75.01,12.12 L75.27,12.12 L75.53,12.12 L75.79,12.13 L76.05,12.13 L76.31,12.13 L76.57,12.13 L76.83,12.13 L77.09,12.13 L77.35,12.13 L77.61,12.13 L77.87,12.13 L78.13,12.13 L78.39,12.13 L78.65,12.13 L78.91,12.13 L79.17,12.13 L79.43,12.13 L79.69,12.13 L79.95,12.13 L80.21,12.14 L80.47,12.14 L80.73,12.14 L80.99,12.14 L81.25,12.14 L81.51,12.14 L81.77,12.14 L82.03,12.14 L82.29,12.14 L82.55,12.14 L82.81,12.14 L83.07,12.14 L83.33,12.14 L83.59,12.14 L83.85,12.14 L84.11,12.14 L84.37,12.15 L84.63,12.15 L84.89,12.15 L85.15,12.15 L85.41,12.15 L85.67,12.15 L85.93,12.15 L86.19,12.15 L86.45,12.15 L86.71,12.15 L86.97,12.15 L87.23,12.15 L87.49,12.15 L87.75,12.15 L88.01,12.15 L88.27,12.16 L88.53,12.16 L88.79,12.16 L89.05,12.16 L89.31,12.16 L89.57,12.16 L89.83,12.16 L90.09,12.16 L90.35,12.16 L90.61,12.16 L90.87,12.16 L91.13,12.16 L91.39,12.16 L91.65,12.16 L91.91,12.17 L92.17,12.17 L92.43,12.17 L92.69,12.17 L92.95,12.17 L93.21,12.17 L93.47,12.17 L93.73,12.17 L93.99,12.17 L94.25,12.17 L94.51,12.17 L94.77,12.17 L95.03,12.17 L95.29,12.18 L95.55,12.18 L95.81,12.18 L96.07,12.18 L96.33,12.18 L96.59,12.18 L96.85,12.18 L97.11,12.18 L97.37,12.18 L97.63,12.18 L97.89,12.18 L98.15,12.18 L98.41,12.19 L98.67,12.19 L98.93,12.19 L99.19,12.19 L99.45,12.19 L99.71,12.19 L99.97,12.19 L100.23,12.19 L100.49,12.19 L100.75,12.19 L101.01,12.19 L101.27,12.20 L101.53,12.20 L101.79,12.20 L102.05,12.20 L102.31,12.20 L102.57,12.20 L102.83,12.20 L103.09,12.20 L103.35,12.20 L103.61,12.20 L103.87,12.21 L104.13,12.21 L104.39,12.21 L104.65,12.21 L104.91,12.21 L105.17,12.21 L105.43,12.21 L105.69,12.21 L105.95,12.21 L106.21,12.21 L106.47,12.22 L106.73,12.22 L106.99,12.22 L107.25,12.22 L107.51,12.22 L107.77,12.22 L108.03,12.22 L108.29,12.22 L108.55,12.22 L108.81,12.22 L109.07,12.23 L109.33,12.23 L109.59,12.23 L109.85,12.23 L110.10,12.23 L110.36,12.23 L110.62,12.23 L110.88,12.23 L111.14,12.23 L111.40,12.24 L111.66,12.24 L111.92,12.24 L112.18,12.24 L112.44,12.24 L112.70,12.24 L112.96,12.24 L113.22,12.24 L113.48,12.25 L113.74,12.25 L114.00,12.25 L114.26,12.25 L114.52,12.25 L114.78,12.25 L115.04,12.25 L115.30,12.25 L115.56,12.26 L115.82,12.26 L116.08,12.26 L116.34,12.26 L116.60,12.26 L116.86,12.26 L117.12,12.26 L117.38,12.26 L117.64,12.27 L117.90,12.27 L118.16,12.27 L118.42,12.27 L118.68,12.27 L118.94,12.27 L119.20,12.27 L119.46,12.28 L119.72,12.28 L119.98,12.28 L120.24,12.28 L120.50,12.28 L120.76,12.28 L121.02,12.28 L121.28,12.29 L121.54,12.29 L121.80,12.29 L122.06,12.29 L122.32,12.29 L122.58,12.29 L122.84,12.29 L123.10,12.30 L123.36,12.30 L123.62,12.30 L123.88,12.30 L124.14,12.30 L124.40,12.30 L124.66,12.31 L124.92,12.31 L125.18,12.31 L125.44,12.31 L125.70,12.31 L125.96,12.31 L126.22,12.32 L126.48,12.32 L126.74,12.32 L127.00,12.32 L127.26,12.32 L127.52,12.32 L127.78,12.33 L128.04,12.33 L128.30,12.33 L128.56,12.33 L128.82,12.33 L129.08,12.33 L129.34,12.34 L129.60,12.34 L129.86,12.34 L130.12,12.34 L130.38,12.34 L130.64,12.35 L130.90,12.35 L131.16,12.35 L131.42,12.35 L131.68,12.35 L131.94,12.36 L132.20,12.36 L132.46,12.36 L132.72,12.36 L132.98,12.36 L133.24,12.37 L133.50,12.37 L133.76,12.37 L134.02,12.37 L134.28,12.37 L134.54,12.38 L134.80,12.38 L135.06,12.38 L135.32,12.38 L135.58,12.38 L135.84,12.39 L136.10,12.39 L136.36,12.39 L136.62,12.39 L136.88,12.40 L137.14,12.40 L137.40,12.40 L137.66,12.40 L137.92,12.40 L138.18,12.41 L138.44,12.41 L138.70,12.41 L138.96,12.41 L139.22,12.42 L139.48,12.42 L139.74,12.42 L140.00,12.42 L140.26,12.43 L140.52,12.43 L140.78,12.43 L141.04,12.43 L141.30,12.44 L141.56,12.44 L141.82,12.44 L142.08,12.44 L142.34,12.45 L142.60,12.45 L142.86,12.45 L143.12,12.45 L143.38,12.46 L143.64,12.46 L143.90,12.46 L144.16,12.47 L144.42,12.47 L144.68,12.47 L144.94,12.47 L145.20,12.48 L145.46,12.48 L145.72,12.48 L145.98,12.49 L146.24,12.49 L146.50,12.49 L146.76,12.50 L147.02,12.50 L147.28,12.50 L147.54,12.50 L147.80,12.51 L148.06,12.51 L148.32,12.51 L148.58,12.52 L148.84,12.52 L149.10,12.52 L149.36,12.53 L149.62,12.53 L149.88,12.53 L150.14,12.54 L150.40,12.54 L150.66,12.54 L150.92,12.55 L151.18,12.55 L151.44,12.55 L151.70,12.56 L151.96,12.56 L152.22,12.57 L152.48,12.57 L152.74,12.57 L153.00,12.58 L153.26,12.58 L153.52,12.58 L153.78,12.59 L154.04,12.59 L154.30,12.60 L154.56,12.60 L154.82,12.60 L155.08,12.61 L155.34,12.61 L155.60,12.62 L155.86,12.62 L156.12,12.62 L156.38,12.63 L156.64,12.63 L156.90,12.64 L157.16,12.64 L157.42,12.65 L157.68,12.65 L157.94,12.65 L158.20,12.66 L158.46,12.66 L158.72,12.67 L158.98,12.67 L159.24,12.68 L159.50,12.68 L159.76,12.69 L160.02,12.69 L160.28,12.70 L160.54,12.70 L160.80,12.71 L161.06,12.71 L161.32,12.72 L161.58,12.72 L161.84,12.73 L162.10,12.73 L162.36,12.74 L162.62,12.74 L162.88,12.75 L163.14,12.75 L163.40,12.76 L163.66,12.76 L163.92,12.77 L164.18,12.78 L164.44,12.78 L164.70,12.79 L164.96,12.79 L165.22,12.80 L165.48,12.80 L165.74,12.81 L166.00,12.82 L166.26,12.82 L166.52,12.83 L166.78,12.84 L167.04,12.84 L167.30,12.85 L167.56,12.85 L167.82,12.86 L168.08,12.87 L168.34,12.87 L168.60,12.88 L168.86,12.89 L169.12,12.90 L169.38,12.90 L169.64,12.91 L169.90,12.92 L170.16,12.92 L170.42,12.93 L170.68,12.94 L170.94,12.95 L171.20,12.95 L171.46,12.96 L171.72,12.97 L171.98,12.98 L172.24,12.98 L172.50,12.99 L172.76,13.00 L173.02,13.01 L173.28,13.02 L173.54,13.03 L173.80,13.03 L174.06,13.04 L174.32,13.05 L174.58,13.06 L174.84,13.07 L175.10,13.08 L175.36,13.09 L175.62,13.10 L175.88,13.11 L176.14,13.12 L176.40,13.12 L176.66,13.13 L176.92,13.14 L177.18,13.15 L177.44,13.16 L177.70,13.17 L177.96,13.18 L178.22,13.20 L178.48,13.21 L178.74,13.22 L179.00,13.23 L179.24,13.24 L179.48,13.25 L179.72,13.26 L179.96,13.27 L180.20,13.28 L180.44,13.29 L180.68,13.30 L180.92,13.31 L181.16,13.32 L181.40,13.33 L181.64,13.35 L181.88,13.36 L182.12,13.37 L182.36,13.38 L182.60,13.39 L182.84,13.41 L183.08,13.42 L183.32,13.43 L183.56,13.44 L183.80,13.46 L184.04,13.47 L184.28,13.48 L184.52,13.49 L184.76,13.51 L185.00,13.52 L185.24,13.54 L185.48,13.55 L185.72,13.56 L185.96,13.58 L186.20,13.59 L186.44,13.61 L186.68,13.62 L186.92,13.64 L187.16,13.65 L187.40,13.67 L187.64,13.68 L187.88,13.70 L188.12,13.72 L188.36,13.73 L188.60,13.75 L188.84,13.77 L189.08,13.78 L189.32,13.80 L189.56,13.82 L189.80,13.84 L190.04,13.86 L190.28,13.87 L190.52,13.89 L190.76,13.91 L191.00,13.93 L191.24,13.95 L191.48,13.97 L191.72,13.99 L191.96,14.01 L192.20,14.03 L192.44,14.05 L192.68,14.07 L192.92,14.10 L193.16,14.12 L193.40,14.14 L193.64,14.16 L193.88,14.19 L194.12,14.21 L194.36,14.23 L194.60,14.26 L194.84,14.28 L195.08,14.31 L195.32,14.33 L195.56,14.36 L195.80,14.39 L196.04,14.41 L196.28,14.44 L196.51,14.47 L196.75,14.49 L196.99,14.52 L197.23,14.55 L197.47,14.58 L197.71,14.61 L197.95,14.64 L198.19,14.67 L198.43,14.70 L198.67,14.74 L198.91,14.77 L199.13,14.80 L199.35,14.83 L199.57,14.86 L199.79,14.89 L200.01,14.93 L200.23,14.96 L200.45,14.99 L200.67,15.03 L200.89,15.06 L201.11,15.10 L201.33,15.13 L201.55,15.17 L201.77,15.21 L201.99,15.24 L202.21,15.28 L202.43,15.32 L202.65,15.36 L202.87,15.40 L203.09,15.44 L203.31,15.49 L203.53,15.53 L203.75,15.57 L203.97,15.62 L204.19,15.66 L204.41,15.71 L204.63,15.75 L204.85,15.80 L205.07,15.85 L205.29,15.90 L205.51,15.95 L205.73,16.00 L205.95,16.05 L206.17,16.11 L206.39,16.16 L206.59,16.21 L206.79,16.26 L206.99,16.31 L207.19,16.37 L207.39,16.42 L207.59,16.48 L207.79,16.53 L207.99,16.59 L208.19,16.65 L208.39,16.71 L208.59,16.77 L208.79,16.83 L208.99,16.89 L209.19,16.96 L209.39,17.02 L209.59,17.09 L209.79,17.16 L209.99,17.23 L210.19,17.30 L210.39,17.37 L210.59,17.44 L210.79,17.52 L210.99,17.59 L211.17,17.66 L211.35,17.73 L211.53,17.81 L211.71,17.88 L211.89,17.96 L212.07,18.03 L212.25,18.11 L212.43,18.19 L212.61,18.27 L212.79,18.36 L212.97,18.44 L213.15,18.53 L213.33,18.61 L213.51,18.70 L213.69,18.80 L213.87,18.89 L214.05,18.99 L214.23,19.08 L214.41,19.18 L214.57,19.27 L214.73,19.36 L214.89,19.46 L215.05,19.55 L215.21,19.65 L215.37,19.75 L215.53,19.85 L215.69,19.95 L215.85,20.06 L216.01,20.16 L216.17,20.27 L216.33,20.38 L216.49,20.50 L216.65,20.61 L216.81,20.73 L216.97,20.85 L217.13,20.97 L217.29,21.10 L217.43,21.21 L217.57,21.32 L217.71,21.44 L217.85,21.55 L217.99,21.67 L218.13,21.80 L218.27,21.92 L218.41,22.05 L218.55,22.18 L218.69,22.31 L218.83,22.44 L218.97,22.58 L219.11,22.72 L219.25,22.86 L219.39,23.00 L219.53,23.15 L219.67,23.30 L219.79,23.43 L219.91,23.57 L220.03,23.70 L220.15,23.84 L220.27,23.98 L220.39,24.12 L220.51,24.27 L220.63,24.42 L220.75,24.57 L220.87,24.72 L220.99,24.88 L221.11,25.04 L221.23,25.20 L221.35,25.36 L221.47,25.53 L221.59,25.70 L221.71,25.88 L221.83,26.06 L221.93,26.21 L222.03,26.36 L222.13,26.51 L222.23,26.67 L222.33,26.83 L222.43,26.99 L222.53,27.16 L222.63,27.33 L222.73,27.50 L222.83,27.67 L222.93,27.85 L223.03,28.03 L223.13,28.21 L223.23,28.39 L223.33,28.58 L223.43,28.77 L223.53,28.97 L223.63,29.17 L223.73,29.37 L223.83,29.57 L223.93,29.78 L224.03,29.99 L224.11,30.17 L224.19,30.34 L224.27,30.52 L224.35,30.70 L224.43,30.88 L224.51,31.06 L224.59,31.25 L224.67,31.44 L224.75,31.63 L224.83,31.83 L224.91,32.03 L224.99,32.23 L225.07,32.43 L225.15,32.64 L225.23,32.85 L225.31,33.06 L225.39,33.28 L225.47,33.50 L225.55,33.72 L225.63,33.95 L225.71,34.18 L225.79,34.41 L225.87,34.64 L225.95,34.88 L226.03,35.13 L226.11,35.38 L226.19,35.63 L226.25,35.82 L226.31,36.01 L226.37,36.21 L226.43,36.40 L226.49,36.60 L226.55,36.81 L226.61,37.01 L226.67,37.22 L226.73,37.43 L226.79,37.64 L226.85,37.86 L226.91,38.07 L226.97,38.29 L227.03,38.52 L227.09,38.74 L227.15,38.97 L227.21,39.20 L227.27,39.43 L227.33,39.67 L227.39,39.91 L227.45,40.15 L227.51,40.40 L227.57,40.65 L227.63,40.90 L227.69,41.15 L227.75,41.41 L227.81,41.67 L227.87,41.93 L227.93,42.20 L227.99,42.47 L228.05,42.75 L228.11,43.03 L228.17,43.31 L228.23,43.59 L228.29,43.88 L228.35,44.17 L228.41,44.47 L228.47,44.77 L228.53,45.07 L228.59,45.38 L228.65,45.69 L228.69,45.90 L228.73,46.12 L228.77,46.33 L228.81,46.55 L228.85,46.76 L228.89,46.98 L228.93,47.21 L228.97,47.43 L229.01,47.66 L229.05,47.88 L229.09,48.11 L229.13,48.34 L229.17,48.58 L229.21,48.81 L229.25,49.05 L229.29,49.29 L229.33,49.54 L229.37,49.78 L229.41,50.03 L229.45,50.28 L229.49,50.53 L229.53,50.78 L229.57,51.04 L229.61,51.29 L229.65,51.56 L229.69,51.82 L229.73,52.08 L229.77,52.35 L229.81,52.62 L229.85,52.89 L229.89,53.17 L229.93,53.45 L229.97,53.73 L230.01,54.01 L230.05,54.30 L230.09,54.59 L230.13,54.88 L230.17,55.17 L230.21,55.47 L230.25,55.77 L230.29,56.07 L230.33,56.37 L230.37,56.68 L230.41,56.99 L230.45,57.31 L230.49,57.62 L230.53,57.94 L230.57,58.27 L230.61,58.59 L230.65,58.92 L230.69,59.25 L230.73,59.59 L230.77,59.93 L230.81,60.27 L230.85,60.61 L230.89,60.96 L230.93,61.31 L230.97,61.67 L231.01,62.03 L231.05,62.39 L231.09,62.76 L231.13,63.13 L231.17,63.50 L231.21,63.88 L231.25,64.26 L231.29,64.64 L231.33,65.03 L231.37,65.42 L231.41,65.81 L231.45,66.21 L231.49,66.62 L231.53,67.02 L231.57,67.43 L231.61,67.85 L231.65,68.27 L231.69,68.69 L231.73,69.12 L231.77,69.55 L231.81,69.99 L231.85,70.43 L231.89,70.87 L231.93,71.32 L231.97,71.78 L232.01,72.23 L232.03,72.47 L232.05,72.70 L232.07,72.93 L232.09,73.16 L232.11,73.40 L232.13,73.64 L232.15,73.87 L232.17,74.11 L232.19,74.35 L232.21,74.60 L232.23,74.84 L232.25,75.08 L232.27,75.33 L232.29,75.57 L232.31,75.82 L232.33,76.07 L232.35,76.32 L232.37,76.57 L232.39,76.82 L232.41,77.08 L232.43,77.33 L232.45,77.59 L232.47,77.84 L232.49,78.10 L232.51,78.36 L232.53,78.62 L232.55,78.89 L232.57,79.15 L232.59,79.42 L232.61,79.68 L232.63,79.95 L232.65,80.22 L232.67,80.49 L232.69,80.76 L232.71,81.04 L232.73,81.31 L232.75,81.59 L232.77,81.86 L232.79,82.14 L232.81,82.42 L232.83,82.70 L232.85,82.99 L232.87,83.27 L232.89,83.56 L232.91,83.84 L232.93,84.13 L232.95,84.42 L232.97,84.71 L232.99,85.01 L233.01,85.30 L233.03,85.60 L233.05,85.89 L233.07,86.19 L233.09,86.49 L233.11,86.79 L233.13,87.10 L233.15,87.40 L233.17,87.71 L233.19,88.02 L233.21,88.33 L233.23,88.64 L233.25,88.95 L233.27,89.26 L233.29,89.58 L233.31,89.89 L233.33,90.21 L233.35,90.53 L233.37,90.85 L233.39,91.18 L233.41,91.50 L233.43,91.83 L233.45,92.16 L233.47,92.49 L233.49,92.82 L233.51,93.15 L233.53,93.48 L233.55,93.82 L233.57,94.16 L233.59,94.50 L233.61,94.84 L233.63,95.18 L233.65,95.52 L233.67,95.87 L233.69,96.22 L233.71,96.57 L233.73,96.92 L233.75,97.27 L233.77,97.62 L233.79,97.98 L233.81,98.34 L233.83,98.70 L233.85,99.06 L233.87,99.42 L233.89,99.78 L233.91,100.15 L233.93,100.52 L233.95,100.89 L233.97,101.26 L233.99,101.63 L234.01,102.01 L234.03,102.38 L234.05,102.76 L234.07,103.14 L234.09,103.52 L234.11,103.91 L234.13,104.29 L234.15,104.68 L234.17,105.07 L234.19,105.46 L234.21,105.85 L234.23,106.25 L234.25,106.64 L234.27,107.04 L234.29,107.44 L234.31,107.84 L234.33,108.24 L234.35,108.65 L234.37,109.06 L234.39,109.47 L234.41,109.88 L234.43,110.29 L234.45,110.70 L234.47,111.12 L234.49,111.54 L234.51,111.96 L234.53,112.38 L234.55,112.80 L234.57,113.23 L234.59,113.65 L234.61,114.08 L234.63,114.51 L234.65,114.95 L234.67,115.38 L234.69,115.82 L234.71,116.26 L234.73,116.70 L234.75,117.14 L234.77,117.58 L234.79,118.03 L234.81,118.48 L234.83,118.92 L234.85,119.38 L234.87,119.83 L234.89,120.28 L234.91,120.74 L234.93,121.20 L234.95,121.66 L234.97,122.12 L234.99,122.58 L235.01,123.05 L235.03,123.52 L235.05,123.99 L235.07,124.46 L235.09,124.93 L235.11,125.41 L235.13,125.88 L235.15,126.36 L235.17,126.84 L235.19,127.32 L235.21,127.81 L235.23,128.29 L235.25,128.78 L235.27,129.27 L235.29,129.76 L235.31,130.25 L235.33,130.75 L235.35,131.24 L235.37,131.74 L235.39,132.24 L235.41,132.74 L235.43,133.24 L235.45,133.75 L235.47,134.25 L235.49,134.76 L235.51,135.27 L235.53,135.78 L235.55,136.30 L235.57,136.81 L235.59,137.33 L235.61,137.84 L235.63,138.36 L235.65,138.88 L235.67,139.40 L235.69,139.93 L235.71,140.45 L235.73,140.98 L235.75,141.51 L235.77,142.04 L235.79,142.57 L235.81,143.10 L235.83,143.63 L235.85,144.17 L235.87,144.71 L235.89,145.24 L235.91,145.78 L235.93,146.32 L235.95,146.87 L235.97,147.41 L235.99,147.95 L236.01,148.50 L236.03,149.05 L236.05,149.59 L236.07,150.14 L236.09,150.69 L236.11,151.24 L236.13,151.80 L236.15,152.35 L236.17,152.90 L236.19,153.46 L236.21,154.02 L236.23,154.57 L236.25,155.13 L236.27,155.69 L236.29,156.25 L236.31,156.81 L236.33,157.37 L236.35,157.94 L236.37,158.50 L236.39,159.06 L236.41,159.63 L236.43,160.19 L236.45,160.76 L236.47,161.32 L236.49,161.89 L236.51,162.46 L236.53,163.02 L236.55,163.59 L236.57,164.16 L236.59,164.73 L236.61,165.30 L236.63,165.86 L236.65,166.43 L236.67,167.00 L236.69,167.57 L236.71,168.14 L236.73,168.71 L236.75,169.28 L236.77,169.85 L236.79,170.42 L236.81,170.99 L236.83,171.55 L236.85,172.12 L236.87,172.69 L236.89,173.26 L236.91,173.82 L236.93,174.39 L236.95,174.96 L236.97,175.52 L236.99,176.09 L237.01,176.65 L237.03,177.21 L237.05,177.78 L237.07,178.34 L237.09,178.90 L237.11,179.46 L237.13,180.02 L237.15,180.57 L237.17,181.13 L237.19,181.69 L237.21,182.24 L237.23,182.79 L237.25,183.34 L237.27,183.89 L237.29,184.44 L237.31,184.99 L237.33,185.53 L237.35,186.07 L237.37,186.62 L237.39,187.15 L237.41,187.69 L237.43,188.23 L237.45,188.76 L237.47,189.29 L237.49,189.82 L237.51,190.35 L237.53,190.87 L237.55,191.40 L237.57,191.92 L237.59,192.43 L237.61,192.95 L237.63,193.46 L237.65,193.97 L237.67,194.47 L237.69,194.98 L237.71,195.48 L237.73,195.98 L237.75,196.47 L237.77,196.96 L237.79,197.45 L237.81,197.93 L237.83,198.42 L237.85,198.89 L237.87,199.37 L237.89,199.84 L237.91,200.31 L237.93,200.77 L237.95,201.23 L237.97,201.68 L237.99,202.14 L238.01,202.58 L238.03,203.03 L238.05,203.47 L238.07,203.90 L238.09,204.33 L238.11,204.76 L238.13,205.18 L238.15,205.60 L238.17,206.01 L238.19,206.42 L238.21,206.82 L238.23,207.22 L238.25,207.62 L238.27,208.00 L238.29,208.39 L238.31,208.77 L238.33,209.14 L238.35,209.51 L238.37,209.87 L238.39,210.23 L238.41,210.58 L238.43,210.93 L238.45,211.27 L238.47,211.60 L238.49,211.93 L238.51,212.26 L238.53,212.58 L238.55,212.89 L238.57,213.19 L238.59,213.49 L238.61,213.79 L238.63,214.08 L238.65,214.36 L238.67,214.64 L238.69,214.91 L238.71,215.17 L238.73,215.43 L238.75,215.68 L238.77,215.92 L238.79,216.16 L238.81,216.39 L238.85,216.83 L238.89,217.25 L238.93,217.64 L238.97,218.00 L239.01,218.33 L239.05,218.63 L239.09,218.91 L239.13,219.16 L239.17,219.38 L239.23,219.65 L239.29,219.86 L239.37,220.04 L239.45,220.10" stroke="#ff0000" stroke-width="2.1" stroke-dasharray="6.85 2.828"/>
<path d="M426.30,12.08 L426.04,12.08 L425.78,12.09 L425.52,12.09 L425.26,12.09 L425.00,12.09 L424.74,12.09 L424.48,12.09 L424.22,12.09 L423.96,12.09 L423.70,12.09 L423.44,12.09 L423.18,12.09 L422.92,12.09 L422.66,12.09 L422.40,12.09 L422.14,12.09 L421.88,12.09 L421.62,12.09 L421.36,12.09 L421.10,12.09 L420.84,12.09 L420.58,12.09 L420.32,12.09 L420.06,12.09 L419.80,12.09 L419.54,12.09 L419.28,12.10 L419.02,12.10 L418.76,12.10 L418.50,12.10 L418.24,12.10 L417.98,12.10 L417.72,12.10 L417.46,12.10 L417.20,12.10 L416.94,12.10 L416.68,12.10 L416.42,12.10 L416.16,12.10 L415.90,12.10 L415.64,12.10 L415.38,12.10 L415.12,12.10 L414.86,12.10 L414.60,12.10 L414.34,12.10 L414.08,12.10 L413.82,12.10 L413.56,12.10 L413.30,12.11 L413.04,12.11 L412.78,12.11 L412.52,12.11 L412.26,12.11 L412.00,12.11 L411.74,12.11 L411.48,12.11 L411.22,12.11 L410.96,12.11 L410.70,12.11 L410.44,12.11 L410.18,12.11 L409.92,12.11 L409.66,12.11 L409.40,12.11 L409.14,12.11 L408.88,12.11 L408.62,12.11 L408.36,12.11 L408.10,12.11 L407.84,12.12 L407.58,12.12 L407.32,12.12 L407.06,12.12 L406.80,12.12 L406.54,12.12 L406.28,12.12 L406.02,12.12 L405.76,12.12 L405.50,12.12 L405.24,12.12 L404.98,12.12 L404.72,12.12 L404.46,12.12 L404.20,12.12 L403.94,12.12 L403.68,12.12 L403.42,12.12 L403.16,12.13 L402.90,12.13 L402.64,12.13 L402.38,12.13 L402.12,12.13 L401.86,12.13 L401.60,12.13 L401.34,12.13 L401.08,12.13 L400.82,12.13 L400.56,12.13 L400.30,12.13 L400.04,12.13 L399.78,12.13 L399.52,12.13 L399.26,12.13 L399.00,12.13 L398.74,12.13 L398.48,12.14 L398.22,12.14 L397.96,12.14 L397.70,12.14 L397.44,12.14 L397.18,12.14 L396.92,12.14 L396.66,12.14 L396.40,12.14 L396.14,12.14 L395.88,12.14 L395.62,12.14 L395.36,12.14 L395.10,12.14 L394.84,12.14 L394.58,12.14 L394.32,12.15 L394.06,12.15 L393.80,12.15 L393.54,12.15 L393.28,12.15 L393.02,12.15 L392.76,12.15 L392.50,12.15 L392.24,12.15 L391.98,12.15 L391.72,12.15 L391.46,12.15 L391.20,12.15 L390.94,12.15 L390.68,12.16 L390.42,12.16 L390.16,12.16 L389.90,12.16 L389.64,12.16 L389.38,12.16 L389.12,12.16 L388.86,12.16 L388.60,12.16 L388.34,12.16 L388.08,12.16 L387.82,12.16 L387.56,12.16 L387.30,12.16 L387.04,12.17 L386.78,12.17 L386.52,12.17 L386.26,12.17 L386.00,12.17 L385.74,12.17 L385.48,12.17 L385.22,12.17 L384.96,12.17 L384.70,12.17 L384.44,12.17 L384.18,12.17 L383.92,12.17 L383.66,12.18 L383.40,12.18 L383.14,12.18 L382.88,12.18 L382.62,12.18 L382.36,12.18 L382.10,12.18 L381.84,12.18 L381.58,12.18 L381.32,12.18 L381.06,12.18 L380.80,12.18 L380.54,12.19 L380.28,12.19 L380.02,12.19 L379.76,12.19 L379.50,12.19 L379.24,12.19 L378.98,12.19 L378.72,12.19 L378.46,12.19 L378.20,12.19 L377.94,12.19 L377.68,12.20 L377.42,12.20 L377.16,12.20 L376.90,12.20 L376.64,12.20 L376.38,12.20 L376.12,12.20 L375.86,12.20 L375.60,12.20 L375.34,12.20 L375.08,12.20 L374.82,12.21 L374.56,12.21 L374.30,12.21 L374.04,12.21 L373.78,12.21 L373.52,12.21 L373.26,12.21 L373.00,12.21 L372.74,12.21 L372.48,12.22 L372.22,12.22 L371.96,12.22 L371.70,12.22 L371.44,12.22 L371.18,12.22 L370.92,12.22 L370.66,12.22 L370.40,12.22 L370.14,12.22 L369.88,12.23 L369.62,12.23 L369.36,12.23 L369.10,12.23 L368.84,12.23 L368.58,12.23 L368.32,12.23 L368.06,12.23 L367.80,12.23 L367.54,12.24 L367.28,12.24 L367.02,12.24 L366.76,12.24 L366.50,12.24 L366.24,12.24 L365.98,12.24 L365.72,12.24 L365.46,12.25 L365.20,12.25 L364.94,12.25 L364.68,12.25 L364.42,12.25 L364.16,12.25 L363.90,12.25 L363.64,12.25 L363.38,12.26 L363.12,12.26 L362.86,12.26 L362.60,12.26 L362.34,12.26 L362.08,12.26 L361.82,12.26 L361.56,12.26 L361.30,12.27 L361.04,12.27 L360.78,12.27 L360.52,12.27 L360.26,12.27 L360.00,12.27 L359.74,12.27 L359.48,12.28 L359.22,12.28 L358.96,12.28 L358.70,12.28 L358.44,12.28 L358.18,12.28 L357.92,12.28 L357.66,12.29 L357.40,12.29 L357.14,12.29 L356.88,12.29 L356.62,12.29 L356.36,12.29 L356.10,12.29 L355.84,12.30 L355.58,12.30 L355.32,12.30 L355.06,12.30 L354.80,12.30 L354.54,12.30 L354.28,12.31 L354.02,12.31 L353.76,12.31 L353.50,12.31 L353.24,12.31 L352.98,12.31 L352.72,12.32 L352.46,12.32 L352.20,12.32 L351.94,12.32 L351.68,12.32 L351.42,12.32 L351.16,12.33 L350.90,12.33 L350.64,12.33 L350.38,12.33 L350.12,12.33 L349.86,12.33 L349.60,12.34 L349.34,12.34 L349.08,12.34 L348.82,12.34 L348.56,12.34 L348.30,12.35 L348.04,12.35 L347.78,12.35 L347.52,12.35 L347.26,12.35 L347.00,12.36 L346.74,12.36 L346.48,12.36 L346.22,12.36 L345.96,12.36 L345.70,12.37 L345.44,12.37 L345.18,12.37 L344.92,12.37 L344.66,12.37 L344.40,12.38 L344.14,12.38 L343.88,12.38 L343.62,12.38 L343.36,12.38 L343.10,12.39 L342.84,12.39 L342.58,12.39 L342.32,12.39 L342.06,12.40 L341.80,12.40 L341.54,12.40 L341.28,12.40 L341.02,12.40 L340.76,12.41 L340.50,12.41 L340.24,12.41 L339.98,12.41 L339.72,12.42 L339.46,12.42 L339.20,12.42 L338.94,12.42 L338.68,12.43 L338.42,12.43 L338.16,12.43 L337.90,12.43 L337.64,12.44 L337.38,12.44 L337.12,12.44 L336.86,12.44 L336.60,12.45 L336.34,12.45 L336.08,12.45 L335.82,12.45 L335.56,12.46 L335.30,12.46 L335.04,12.46 L334.78,12.47 L334.52,12.47 L334.26,12.47 L334.00,12.47 L333.74,12.48 L333.48,12.48 L333.22,12.48 L332.96,12.49 L332.71,12.49 L332.45,12.49 L332.19,12.49 L331.93,12.50 L331.67,12.50 L331.41,12.50 L331.15,12.51 L330.89,12.51 L330.63,12.51 L330.37,12.52 L330.11,12.52 L329.85,12.52 L329.59,12.53 L329.33,12.53 L329.07,12.53 L328.81,12.54 L328.55,12.54 L328.29,12.54 L328.03,12.55 L327.77,12.55 L327.51,12.55 L327.25,12.56 L326.99,12.56 L326.73,12.56 L326.47,12.57 L326.21,12.57 L325.95,12.58 L325.69,12.58 L325.43,12.58 L325.17,12.59 L324.91,12.59 L324.65,12.60 L324.39,12.60 L324.13,12.60 L323.87,12.61 L323.61,12.61 L323.35,12.62 L323.09,12.62 L322.83,12.62 L322.57,12.63 L322.31,12.63 L322.05,12.64 L321.79,12.64 L321.53,12.64 L321.27,12.65 L321.01,12.65 L320.75,12.66 L320.49,12.66 L320.23,12.67 L319.97,12.67 L319.71,12.68 L319.45,12.68 L319.19,12.69 L318.93,12.69 L318.67,12.70 L318.41,12.70 L318.15,12.71 L317.89,12.71 L317.63,12.72 L317.37,12.72 L317.11,12.73 L316.85,12.73 L316.59,12.74 L316.33,12.74 L316.07,12.75 L315.81,12.75 L315.55,12.76 L315.29,12.76 L315.03,12.77 L314.77,12.77 L314.51,12.78 L314.25,12.79 L313.99,12.79 L313.73,12.80 L313.47,12.80 L313.21,12.81 L312.95,12.82 L312.69,12.82 L312.43,12.83 L312.17,12.83 L311.91,12.84 L311.65,12.85 L311.39,12.85 L311.13,12.86 L310.87,12.87 L310.61,12.87 L310.35,12.88 L310.09,12.89 L309.83,12.89 L309.57,12.90 L309.31,12.91 L309.05,12.92 L308.79,12.92 L308.53,12.93 L308.27,12.94 L308.01,12.94 L307.75,12.95 L307.49,12.96 L307.23,12.97 L306.97,12.98 L306.71,12.98 L306.45,12.99 L306.19,13.00 L305.93,13.01 L305.67,13.02 L305.41,13.02 L305.15,13.03 L304.89,13.04 L304.63,13.05 L304.37,13.06 L304.11,13.07 L303.85,13.08 L303.59,13.09 L303.33,13.09 L303.07,13.10 L302.81,13.11 L302.55,13.12 L302.29,13.13 L302.03,13.14 L301.77,13.15 L301.51,13.16 L301.25,13.17 L300.99,13.18 L300.73,13.19 L300.47,13.20 L300.21,13.21 L299.95,13.23 L299.71,13.24 L299.47,13.25 L299.23,13.26 L298.99,13.27 L298.75,13.28 L298.51,13.29 L298.27,13.30 L298.03,13.31 L297.79,13.32 L297.55,13.33 L297.31,13.34 L297.07,13.36 L296.83,13.37 L296.59,13.38 L296.35,13.39 L296.11,13.40 L295.87,13.42 L295.63,13.43 L295.39,13.44 L295.15,13.45 L294.91,13.47 L294.67,13.48 L294.43,13.49 L294.19,13.51 L293.95,13.52 L293.71,13.53 L293.47,13.55 L293.23,13.56 L292.99,13.58 L292.75,13.59 L292.51,13.61 L292.27,13.62 L292.03,13.64 L291.79,13.65 L291.55,13.67 L291.31,13.68 L291.07,13.70 L290.83,13.71 L290.59,13.73 L290.35,13.75 L290.11,13.76 L289.87,13.78 L289.63,13.80 L289.39,13.82 L289.15,13.83 L288.91,13.85 L288.67,13.87 L288.43,13.89 L288.19,13.91 L287.95,13.93 L287.71,13.95 L287.47,13.97 L287.23,13.99 L286.99,14.01 L286.75,14.03 L286.51,14.05 L286.27,14.07 L286.03,14.09 L285.79,14.11 L285.55,14.14 L285.31,14.16 L285.07,14.18 L284.83,14.21 L284.59,14.23 L284.35,14.25 L284.11,14.28 L283.87,14.30 L283.63,14.33 L283.39,14.35 L283.15,14.38 L282.91,14.41 L282.67,14.43 L282.43,14.46 L282.19,14.49 L281.95,14.52 L281.71,14.55 L281.47,14.58 L281.23,14.61 L280.99,14.64 L280.75,14.67 L280.51,14.70 L280.27,14.73 L280.03,14.76 L279.81,14.79 L279.59,14.82 L279.37,14.86 L279.15,14.89 L278.93,14.92 L278.71,14.95 L278.49,14.99 L278.27,15.02 L278.05,15.06 L277.83,15.09 L277.61,15.13 L277.39,15.16 L277.17,15.20 L276.95,15.24 L276.73,15.28 L276.51,15.31 L276.29,15.35 L276.07,15.39 L275.85,15.44 L275.63,15.48 L275.41,15.52 L275.19,15.56 L274.97,15.61 L274.75,15.65 L274.53,15.70 L274.31,15.74 L274.09,15.79 L273.87,15.84 L273.65,15.89 L273.43,15.94 L273.21,15.99 L272.99,16.04 L272.77,16.10 L272.55,16.15 L272.35,16.20 L272.15,16.25 L271.95,16.30 L271.75,16.36 L271.55,16.41 L271.35,16.47 L271.15,16.52 L270.95,16.58 L270.75,16.64 L270.55,16.70 L270.35,16.76 L270.15,16.82 L269.95,16.88 L269.75,16.94 L269.55,17.01 L269.35,17.07 L269.15,17.14 L268.95,17.21 L268.75,17.28 L268.55,17.35 L268.35,17.43 L268.15,17.50 L267.95,17.58 L267.75,17.65 L267.57,17.73 L267.39,17.80 L267.21,17.87 L267.03,17.95 L266.85,18.02 L266.67,18.10 L266.49,18.18 L266.31,18.26 L266.13,18.35 L265.95,18.43 L265.77,18.52 L265.59,18.60 L265.41,18.69 L265.23,18.79 L265.05,18.88 L264.87,18.97 L264.69,19.07 L264.51,19.17 L264.33,19.27 L264.17,19.36 L264.01,19.46 L263.85,19.55 L263.69,19.65 L263.53,19.75 L263.37,19.85 L263.21,19.95 L263.05,20.05 L262.89,20.16 L262.73,20.27 L262.57,20.38 L262.41,20.49 L262.25,20.61 L262.09,20.73 L261.93,20.85 L261.77,20.97 L261.61,21.09 L261.47,21.21 L261.33,21.32 L261.19,21.43 L261.05,21.55 L260.91,21.67 L260.77,21.79 L260.63,21.92 L260.49,22.05 L260.35,22.17 L260.21,22.31 L260.07,22.44 L259.93,22.58 L259.79,22.72 L259.65,22.86 L259.51,23.00 L259.37,23.15 L259.23,23.30 L259.11,23.43 L258.99,23.57 L258.87,23.70 L258.75,23.84 L258.63,23.98 L258.51,24.12 L258.39,24.27 L258.27,24.42 L258.15,24.57 L258.03,24.72 L257.91,24.88 L257.79,25.04 L257.67,25.20 L257.55,25.36 L257.43,25.53 L257.31,25.70 L257.19,25.88 L257.07,26.05 L256.97,26.20 L256.87,26.36 L256.77,26.51 L256.67,26.67 L256.57,26.83 L256.47,26.99 L256.37,27.16 L256.27,27.33 L256.17,27.50 L256.07,27.67 L255.97,27.85 L255.87,28.03 L255.77,28.21 L255.67,28.39 L255.57,28.58 L255.47,28.77 L255.37,28.97 L255.27,29.16 L255.17,29.37 L255.07,29.57 L254.97,29.78 L254.87,29.99 L254.79,30.16 L254.71,30.34 L254.63,30.51 L254.55,30.69 L254.47,30.88 L254.39,31.06 L254.31,31.25 L254.23,31.44 L254.15,31.63 L254.07,31.83 L253.99,32.02 L253.91,32.23 L253.83,32.43 L253.75,32.64 L253.67,32.85 L253.59,33.06 L253.51,33.28 L253.43,33.49 L253.35,33.72 L253.27,33.94 L253.19,34.17 L253.11,34.41 L253.03,34.64 L252.95,34.88 L252.87,35.13 L252.79,35.37 L252.71,35.62 L252.65,35.82 L252.59,36.01 L252.53,36.20 L252.47,36.40 L252.41,36.60 L252.35,36.80 L252.29,37.01 L252.23,37.22 L252.17,37.43 L252.11,37.64 L252.05,37.85 L251.99,38.07 L251.93,38.29 L251.87,38.51 L251.81,38.74 L251.75,38.97 L251.69,39.20 L251.63,39.43 L251.57,39.67 L251.51,39.91 L251.45,40.15 L251.39,40.39 L251.33,40.64 L251.27,40.89 L251.21,41.15 L251.15,41.41 L251.09,41.67 L251.03,41.93 L250.97,42.20 L250.91,42.47 L250.85,42.74 L250.79,43.02 L250.73,43.30 L250.67,43.59 L250.61,43.88 L250.55,44.17 L250.49,44.47 L250.43,44.77 L250.37,45.07 L250.31,45.38 L250.25,45.69 L250.21,45.90 L250.17,46.11 L250.13,46.33 L250.09,46.54 L250.05,46.76 L250.01,46.98 L249.97,47.20 L249.93,47.43 L249.89,47.65 L249.85,47.88 L249.81,48.11 L249.77,48.34 L249.73,48.57 L249.69,48.81 L249.65,49.05 L249.61,49.29 L249.57,49.53 L249.53,49.78 L249.49,50.02 L249.45,50.27 L249.41,50.52 L249.37,50.78 L249.33,51.03 L249.29,51.29 L249.25,51.55 L249.21,51.81 L249.17,52.08 L249.13,52.35 L249.09,52.62 L249.05,52.89 L249.01,53.17 L248.97,53.44 L248.93,53.72 L248.89,54.01 L248.85,54.29 L248.81,54.58 L248.77,54.87 L248.73,55.17 L248.69,55.46 L248.65,55.76 L248.61,56.06 L248.57,56.37 L248.53,56.68 L248.49,56.99 L248.45,57.30 L248.41,57.62 L248.37,57.94 L248.33,58.26 L248.29,58.59 L248.25,58.92 L248.21,59.25 L248.17,59.58 L248.13,59.92 L248.09,60.26 L248.05,60.61 L248.01,60.96 L247.97,61.31 L247.93,61.67 L247.89,62.02 L247.85,62.39 L247.81,62.75 L247.77,63.12 L247.73,63.49 L247.69,63.87 L247.65,64.25 L247.61,64.63 L247.57,65.02 L247.53,65.41 L247.49,65.81 L247.45,66.21 L247.41,66.61 L247.37,67.02 L247.33,67.43 L247.29,67.85 L247.25,68.26 L247.21,68.69 L247.17,69.12 L247.13,69.55 L247.09,69.98 L247.05,70.42 L247.01,70.87 L246.97,71.32 L246.93,71.77 L246.89,72.23 L246.87,72.46 L246.85,72.69 L246.83,72.93 L246.81,73.16 L246.79,73.39 L246.77,73.63 L246.75,73.87 L246.73,74.11 L246.71,74.35 L246.69,74.59 L246.67,74.83 L246.65,75.08 L246.63,75.32 L246.61,75.57 L246.59,75.81 L246.57,76.06 L246.55,76.31 L246.53,76.56 L246.51,76.82 L246.49,77.07 L246.47,77.32 L246.45,77.58 L246.43,77.84 L246.41,78.10 L246.39,78.36 L246.37,78.62 L246.35,78.88 L246.33,79.15 L246.31,79.41 L246.29,79.68 L246.27,79.94 L246.25,80.21 L246.23,80.48 L246.21,80.76 L246.19,81.03 L246.17,81.30 L246.15,81.58 L246.13,81.86 L246.11,82.14 L246.09,82.42 L246.07,82.70 L246.05,82.98 L246.03,83.26 L246.01,83.55 L245.99,83.84 L245.97,84.13 L245.95,84.42 L245.93,84.71 L245.91,85.00 L245.89,85.29 L245.87,85.59 L245.85,85.89 L245.83,86.19 L245.81,86.49 L245.79,86.79 L245.77,87.09 L245.75,87.40 L245.73,87.70 L245.71,88.01 L245.69,88.32 L245.67,88.63 L245.65,88.94 L245.63,89.26 L245.61,89.57 L245.59,89.89 L245.57,90.21 L245.55,90.53 L245.53,90.85 L245.51,91.17 L245.49,91.50 L245.47,91.82 L245.45,92.15 L245.43,92.48 L245.41,92.81 L245.39,93.14 L245.37,93.48 L245.35,93.81 L245.33,94.15 L245.31,94.49 L245.29,94.83 L245.27,95.17 L245.25,95.52 L245.23,95.86 L245.21,96.21 L245.19,96.56 L245.17,96.91 L245.15,97.26 L245.13,97.62 L245.11,97.97 L245.09,98.33 L245.07,98.69 L245.05,99.05 L245.03,99.41 L245.01,99.78 L244.99,100.14 L244.97,100.51 L244.95,100.88 L244.93,101.25 L244.91,101.63 L244.89,102.00 L244.87,102.38 L244.85,102.76 L244.83,103.14 L244.81,103.52 L244.79,103.90 L244.77,104.29 L244.75,104.67 L244.73,105.06 L244.71,105.45 L244.69,105.85 L244.67,106.24 L244.65,106.64 L244.63,107.03 L244.61,107.43 L244.59,107.84 L244.57,108.24 L244.55,108.64 L244.53,109.05 L244.51,109.46 L244.49,109.87 L244.47,110.28 L244.45,110.70 L244.43,111.11 L244.41,111.53 L244.39,111.95 L244.37,112.37 L244.35,112.80 L244.33,113.22 L244.31,113.65 L244.29,114.08 L244.27,114.51 L244.25,114.94 L244.23,115.38 L244.21,115.81 L244.19,116.25 L244.17,116.69 L244.15,117.13 L244.13,117.58 L244.11,118.02 L244.09,118.47 L244.07,118.92 L244.05,119.37 L244.03,119.82 L244.01,120.28 L243.99,120.73 L243.97,121.19 L243.95,121.65 L243.93,122.11 L243.91,122.58 L243.89,123.04 L243.87,123.51 L243.85,123.98 L243.83,124.45 L243.81,124.93 L243.79,125.40 L243.77,125.88 L243.75,126.35 L243.73,126.84 L243.71,127.32 L243.69,127.80 L243.67,128.29 L243.65,128.77 L243.63,129.26 L243.61,129.75 L243.59,130.25 L243.57,130.74 L243.55,131.24 L243.53,131.73 L243.51,132.23 L243.49,132.73 L243.47,133.24 L243.45,133.74 L243.43,134.25 L243.41,134.76 L243.39,135.27 L243.37,135.78 L243.35,136.29 L243.33,136.80 L243.31,137.32 L243.29,137.84 L243.27,138.36 L243.25,138.88 L243.23,139.40 L243.21,139.92 L243.19,140.45 L243.17,140.97 L243.15,141.50 L243.13,142.03 L243.11,142.56 L243.09,143.09 L243.07,143.63 L243.05,144.16 L243.03,144.70 L243.01,145.24 L242.99,145.78 L242.97,146.32 L242.95,146.86 L242.93,147.40 L242.91,147.95 L242.89,148.49 L242.87,149.04 L242.85,149.59 L242.83,150.14 L242.81,150.69 L242.79,151.24 L242.77,151.79 L242.75,152.34 L242.73,152.90 L242.71,153.45 L242.69,154.01 L242.67,154.57 L242.65,155.13 L242.63,155.69 L242.61,156.25 L242.59,156.81 L242.57,157.37 L242.55,157.93 L242.53,158.49 L242.51,159.06 L242.49,159.62 L242.47,160.19 L242.45,160.75 L242.43,161.32 L242.41,161.88 L242.39,162.45 L242.37,163.02 L242.35,163.59 L242.33,164.15 L242.31,164.72 L242.29,165.29 L242.27,165.86 L242.25,166.43 L242.23,167.00 L242.21,167.57 L242.19,168.14 L242.17,168.70 L242.15,169.27 L242.13,169.84 L242.11,170.41 L242.09,170.98 L242.07,171.55 L242.05,172.12 L242.03,172.68 L242.01,173.25 L241.99,173.82 L241.97,174.39 L241.95,174.95 L241.93,175.52 L241.91,176.08 L241.89,176.65 L241.87,177.21 L241.85,177.77 L241.83,178.33 L241.81,178.89 L241.79,179.45 L241.77,180.01 L241.75,180.57 L241.73,181.13 L241.71,181.68 L241.69,182.23 L241.67,182.79 L241.65,183.34 L241.63,183.89 L241.61,184.44 L241.59,184.98 L241.57,185.53 L241.55,186.07 L241.53,186.61 L241.51,187.15 L241.49,187.69 L241.47,188.22 L241.45,188.76 L241.43,189.29 L241.41,189.82 L241.39,190.35 L241.37,190.87 L241.35,191.39 L241.33,191.91 L241.31,192.43 L241.29,192.94 L241.27,193.46 L241.25,193.97 L241.23,194.47 L241.21,194.98 L241.19,195.48 L241.17,195.97 L241.15,196.47 L241.13,196.96 L241.11,197.45 L241.09,197.93 L241.07,198.41 L241.05,198.89 L241.03,199.37 L241.01,199.84 L240.99,200.30 L240.97,200.77 L240.95,201.23 L240.93,201.68 L240.91,202.13 L240.89,202.58 L240.87,203.03 L240.85,203.46 L240.83,203.90 L240.81,204.33 L240.79,204.76 L240.77,205.18 L240.75,205.60 L240.73,206.01 L240.71,206.42 L240.69,206.82 L240.67,207.22 L240.65,207.61 L240.63,208.00 L240.61,208.39 L240.59,208.76 L240.57,209.14 L240.55,209.51 L240.53,209.87 L240.51,210.23 L240.49,210.58 L240.47,210.93 L240.45,211.27 L240.43,211.60 L240.41,211.93 L240.39,212.26 L240.37,212.57 L240.35,212.89 L240.33,213.19 L240.31,213.49 L240.29,213.79 L240.27,214.08 L240.25,214.36 L240.23,214.64 L240.21,214.90 L240.19,215.17 L240.17,215.43 L240.15,215.68 L240.13,215.92 L240.11,216.16 L240.09,216.39 L240.05,216.83 L240.01,217.25 L239.97,217.64 L239.93,218.00 L239.89,218.33 L239.85,218.63 L239.81,218.91 L239.77,219.16 L239.73,219.38 L239.67,219.65 L239.61,219.86 L239.53,220.04 L239.45,220.10" stroke="#ff0000" stroke-width="2.1" stroke-dasharray="6.85 2.81"/>
</g>
<rect x="60.5" y="0.5" width="373.5" height="230.9" fill="none" stroke="#707070" stroke-width="0.8"/>
<line x1="68.00" y1="231.40" x2="68.00" y2="227.00" stroke="#707070" stroke-width="0.8"/>
<line x1="68.00" y1="0.50" x2="68.00" y2="4.90" stroke="#707070" stroke-width="0.8"/>
<line x1="80.81" y1="231.40" x2="80.81" y2="228.90" stroke="#707070" stroke-width="0.8"/>
<line x1="80.81" y1="0.50" x2="80.81" y2="3.00" stroke="#707070" stroke-width="0.8"/>
<line x1="93.61" y1="231.40" x2="93.61" y2="228.90" stroke="#707070" stroke-width="0.8"/>
<line x1="93.61" y1="0.50" x2="93.61" y2="3.00" stroke="#707070" stroke-width="0.8"/>
<line x1="106.41" y1="231.40" x2="106.41" y2="228.90" stroke="#707070" stroke-width="0.8"/>
<line x1="106.41" y1="0.50" x2="106.41" y2="3.00" stroke="#707070" stroke-width="0.8"/>
<line x1="119.22" y1="231.40" x2="119.22" y2="228.90" stroke="#707070" stroke-width="0.8"/>
<line x1="119.22" y1="0.50" x2="119.22" y2="3.00" stroke="#707070" stroke-width="0.8"/>
<line x1="132.03" y1="231.40" x2="132.03" y2="227.00" stroke="#707070" stroke-width="0.8"/>
<line x1="132.03" y1="0.50" x2="132.03" y2="4.90" stroke="#707070" stroke-width="0.8"/>
<line x1="144.83" y1="231.40" x2="144.83" y2="228.90" stroke="#707070" stroke-width="0.8"/>
<line x1="144.83" y1="0.50" x2="144.83" y2="3.00" stroke="#707070" stroke-width="0.8"/>
<line x1="157.63" y1="231.40" x2="157.63" y2="228.90" stroke="#707070" stroke-width="0.8"/>
<line x1="157.63" y1="0.50" x2="157.63" y2="3.00" stroke="#707070" stroke-width="0.8"/>
<line x1="170.44" y1="231.40" x2="170.44" y2="228.90" stroke="#707070" stroke-width="0.8"/>
<line x1="170.44" y1="0.50" x2="170.44" y2="3.00" stroke="#707070" stroke-width="0.8"/>
<line x1="183.25" y1="231.40" x2="183.25" y2="228.90" stroke="#707070" stroke-width="0.8"/>
<line x1="183.25" y1="0.50" x2="183.25" y2="3.00" stroke="#707070" stroke-width="0.8"/>
<line x1="196.05" y1="231.40" x2="196.05" y2="227.00" stroke="#707070" stroke-width="0.8"/>
<line x1="196.05" y1="0.50" x2="196.05" y2="4.90" stroke="#707070" stroke-width="0.8"/>
<line x1="208.85" y1="231.40" x2="208.85" y2="228.90" stroke="#707070" stroke-width="0.8"/>
<line x1="208.85" y1="0.50" x2="208.85" y2="3.00" stroke="#707070" stroke-width="0.8"/>
<line x1="221.66" y1="231.40" x2="221.66" y2="228.90" stroke="#707070" stroke-width="0.8"/>
<line x1="221.66" y1="0.50" x2="221.66" y2="3.00" stroke="#707070" stroke-width="0.8"/>
<line x1="234.47" y1="231.40" x2="234.47" y2="228.90" stroke="#707070" stroke-width="0.8"/>
<line x1="234.47" y1="0.50" x2="234.47" y2="3.00" stroke="#707070" stroke-width="0.8"/>
<line x1="247.27" y1="231.40" x2="247.27" y2="228.90" stroke="#707070" stroke-width="0.8"/>
<line x1="247.27" y1="0.50" x2="247.27" y2="3.00" stroke="#707070" stroke-width="0.8"/>
<line x1="260.07" y1="231.40" x2="260.07" y2="227.00" stroke="#707070" stroke-width="0.8"/>
<line x1="260.07" y1="0.50" x2="260.07" y2="4.90" stroke="#707070" stroke-width="0.8"/>
<line x1="272.88" y1="231.40" x2="272.88" y2="228.90" stroke="#707070" stroke-width="0.8"/>
<line x1="272.88" y1="0.50" x2="272.88" y2="3.00" stroke="#707070" stroke-width="0.8"/>
<line x1="285.69" y1="231.40" x2="285.69" y2="228.90" stroke="#707070" stroke-width="0.8"/>
<line x1="285.69" y1="0.50" x2="285.69" y2="3.00" stroke="#707070" stroke-width="0.8"/>
<line x1="298.49" y1="231.40" x2="298.49" y2="228.90" stroke="#707070" stroke-width="0.8"/>
<line x1="298.49" y1="0.50" x2="298.49" y2="3.00" stroke="#707070" stroke-width="0.8"/>
<line x1="311.29" y1="231.40" x2="311.29" y2="228.90" stroke="#707070" stroke-width="0.8"/>
<line x1="311.29" y1="0.50" x2="311.29" y2="3.00" stroke="#707070" stroke-width="0.8"/>
<line x1="324.10" y1="231.40" x2="324.10" y2="227.00" stroke="#707070" stroke-width="0.8"/>
<line x1="324.10" y1="0.50" x2="324.10" y2="4.90" stroke="#707070" stroke-width="0.8"/>
<line x1="336.90" y1="231.40" x2="336.90" y2="228.90" stroke="#707070" stroke-width="0.8"/>
<line x1="336.90" y1="0.50" x2="336.90" y2="3.00" stroke="#707070" stroke-width="0.8"/>
<line x1="349.71" y1="231.40" x2="349.71" y2="228.90" stroke="#707070" stroke-width="0.8"/>
<line x1="349.71" y1="0.50" x2="349.71" y2="3.00" stroke="#707070" stroke-width="0.8"/>
<line x1="362.51" y1="231.40" x2="362.51" y2="228.90" stroke="#707070" stroke-width="0.8"/>
<line x1="362.51" y1="0.50" x2="362.51" y2="3.00" stroke="#707070" stroke-width="0.8"/>
<line x1="375.32" y1="231.40" x2="375.32" y2="228.90" stroke="#707070" stroke-width="0.8"/>
<line x1="375.32" y1="0.50" x2="375.32" y2="3.00" stroke="#707070" stroke-width="0.8"/>
<line x1="388.12" y1="231.40" x2="388.12" y2="227.00" stroke="#707070" stroke-width="0.8"/>
<line x1="388.12" y1="0.50" x2="388.12" y2="4.90" stroke="#707070" stroke-width="0.8"/>
<line x1="400.93" y1="231.40" x2="400.93" y2="228.90" stroke="#707070" stroke-width="0.8"/>
<line x1="400.93" y1="0.50" x2="400.93" y2="3.00" stroke="#707070" stroke-width="0.8"/>
<line x1="413.74" y1="231.40" x2="413.74" y2="228.90" stroke="#707070" stroke-width="0.8"/>
<line x1="413.74" y1="0.50" x2="413.74" y2="3.00" stroke="#707070" stroke-width="0.8"/>
<line x1="426.54" y1="231.40" x2="426.54" y2="228.90" stroke="#707070" stroke-width="0.8"/>
<line x1="426.54" y1="0.50" x2="426.54" y2="3.00" stroke="#707070" stroke-width="0.8"/>
<line x1="60.50" y1="230.51" x2="63.00" y2="230.51" stroke="#707070" stroke-width="0.8"/>
<line x1="434.00" y1="230.51" x2="431.50" y2="230.51" stroke="#707070" stroke-width="0.8"/>
<line x1="60.50" y1="220.10" x2="64.90" y2="220.10" stroke="#707070" stroke-width="0.8"/>
<line x1="434.00" y1="220.10" x2="429.60" y2="220.10" stroke="#707070" stroke-width="0.8"/>
<line x1="60.50" y1="209.69" x2="63.00" y2="209.69" stroke="#707070" stroke-width="0.8"/>
<line x1="434.00" y1="209.69" x2="431.50" y2="209.69" stroke="#707070" stroke-width="0.8"/>
<line x1="60.50" y1="199.28" x2="63.00" y2="199.28" stroke="#707070" stroke-width="0.8"/>
<line x1="434.00" y1="199.28" x2="431.50" y2="199.28" stroke="#707070" stroke-width="0.8"/>
<line x1="60.50" y1="188.88" x2="63.00" y2="188.88" stroke="#707070" stroke-width="0.8"/>
<line x1="434.00" y1="188.88" x2="431.50" y2="188.88" stroke="#707070" stroke-width="0.8"/>
<line x1="60.50" y1="178.47" x2="64.90" y2="178.47" stroke="#707070" stroke-width="0.8"/>
<line x1="434.00" y1="178.47" x2="429.60" y2="178.47" stroke="#707070" stroke-width="0.8"/>
<line x1="60.50" y1="168.06" x2="63.00" y2="168.06" stroke="#707070" stroke-width="0.8"/>
<line x1="434.00" y1="168.06" x2="431.50" y2="168.06" stroke="#707070" stroke-width="0.8"/>
<line x1="60.50" y1="157.66" x2="63.00" y2="157.66" stroke="#707070" stroke-width="0.8"/>
<line x1="434.00" y1="157.66" x2="431.50" y2="157.66" stroke="#707070" stroke-width="0.8"/>
<line x1="60.50" y1="147.25" x2="63.00" y2="147.25" stroke="#707070" stroke-width="0.8"/>
<line x1="434.00" y1="147.25" x2="431.50" y2="147.25" stroke="#707070" stroke-width="0.8"/>
<line x1="60.50" y1="136.84" x2="64.90" y2="136.84" stroke="#707070" stroke-width="0.8"/>
<line x1="434.00" y1="136.84" x2="429.60" y2="136.84" stroke="#707070" stroke-width="0.8"/>
<line x1="60.50" y1="126.43" x2="63.00" y2="126.43" stroke="#707070" stroke-width="0.8"/>
<line x1="434.00" y1="126.43" x2="431.50" y2="126.43" stroke="#707070" stroke-width="0.8"/>
<line x1="60.50" y1="116.02" x2="63.00" y2="116.02" stroke="#707070" stroke-width="0.8"/>
<line x1="434.00" y1="116.02" x2="431.50" y2="116.02" stroke="#707070" stroke-width="0.8"/>
<line x1="60.50" y1="105.62" x2="63.00" y2="105.62" stroke="#707070" stroke-width="0.8"/>
<line x1="434.00" y1="105.62" x2="431.50" y2="105.62" stroke="#707070" stroke-width="0.8"/>
<line x1="60.50" y1="95.21" x2="64.90" y2="95.21" stroke="#707070" stroke-width="0.8"/>
<line x1="434.00" y1="95.21" x2="429.60" y2="95.21" stroke="#707070" stroke-width="0.8"/>
<line x1="60.50" y1="84.80" x2="63.00" y2="84.80" stroke="#707070" stroke-width="0.8"/>
<line x1="434.00" y1="84.80" x2="431.50" y2="84.80" stroke="#707070" stroke-width="0.8"/>
<line x1="60.50" y1="74.39" x2="63.00" y2="74.39" stroke="#707070" stroke-width="0.8"/>
<line x1="434.00" y1="74.39" x2="431.50" y2="74.39" stroke="#707070" stroke-width="0.8"/>
<line x1="60.50" y1="63.99" x2="63.00" y2="63.99" stroke="#707070" stroke-width="0.8"/>
<line x1="434.00" y1="63.99" x2="431.50" y2="63.99" stroke="#707070" stroke-width="0.8"/>
<line x1="60.50" y1="53.58" x2="64.90" y2="53.58" stroke="#707070" stroke-width="0.8"/>
<line x1="434.00" y1="53.58" x2="429.60" y2="53.58" stroke="#707070" stroke-width="0.8"/>
<line x1="60.50" y1="43.17" x2="63.00" y2="43.17" stroke="#707070" stroke-width="0.8"/>
<line x1="434.00" y1="43.17" x2="431.50" y2="43.17" stroke="#707070" stroke-width="0.8"/>
<line x1="60.50" y1="32.76" x2="63.00" y2="32.76" stroke="#707070" stroke-width="0.8"/>
<line x1="434.00" y1="32.76" x2="431.50" y2="32.76" stroke="#707070" stroke-width="0.8"/>
<line x1="60.50" y1="22.36" x2="63.00" y2="22.36" stroke="#707070" stroke-width="0.8"/>
<line x1="434.00" y1="22.36" x2="431.50" y2="22.36" stroke="#707070" stroke-width="0.8"/>
<line x1="60.50" y1="11.95" x2="64.90" y2="11.95" stroke="#707070" stroke-width="0.8"/>
<line x1="434.00" y1="11.95" x2="429.60" y2="11.95" stroke="#707070" stroke-width="0.8"/>
<line x1="60.50" y1="1.54" x2="63.00" y2="1.54" stroke="#707070" stroke-width="0.8"/>
<line x1="434.00" y1="1.54" x2="431.50" y2="1.54" stroke="#707070" stroke-width="0.8"/>
<path d="M763 0L583 0L583 1147Q518 1085 412.5 1023Q307 961 223 930L223 1104Q374 1175 487 1276Q600 1377 647 1472L763 1472Z" fill="#666666" transform="translate(53.44,247.40) scale(0.006348,-0.006348)"/><text x="60.37" y="247.40" transform="rotate(0.03 60.4 247.4)" font-size="13.0" letter-spacing="0.3" fill="#666666">850</text>
<path d="M763 0L583 0L583 1147Q518 1085 412.5 1023Q307 961 223 930L223 1104Q374 1175 487 1276Q600 1377 647 1472L763 1472Z" fill="#666666" transform="translate(117.47,247.40) scale(0.006348,-0.006348)"/><text x="124.40" y="247.40" transform="rotate(0.03 124.4 247.4)" font-size="13.0" letter-spacing="0.3" fill="#666666">855</text>
<path d="M763 0L583 0L583 1147Q518 1085 412.5 1023Q307 961 223 930L223 1104Q374 1175 487 1276Q600 1377 647 1472L763 1472Z" fill="#666666" transform="translate(181.49,247.40) scale(0.006348,-0.006348)"/><text x="188.42" y="247.40" transform="rotate(0.03 188.4 247.4)" font-size="13.0" letter-spacing="0.3" fill="#666666">860</text>
<path d="M763 0L583 0L583 1147Q518 1085 412.5 1023Q307 961 223 930L223 1104Q374 1175 487 1276Q600 1377 647 1472L763 1472Z" fill="#666666" transform="translate(245.52,247.40) scale(0.006348,-0.006348)"/><text x="252.45" y="247.40" transform="rotate(0.03 252.4 247.4)" font-size="13.0" letter-spacing="0.3" fill="#666666">865</text>
<path d="M763 0L583 0L583 1147Q518 1085 412.5 1023Q307 961 223 930L223 1104Q374 1175 487 1276Q600 1377 647 1472L763 1472Z" fill="#666666" transform="translate(309.54,247.40) scale(0.006348,-0.006348)"/><text x="316.47" y="247.40" transform="rotate(0.03 316.5 247.4)" font-size="13.0" letter-spacing="0.3" fill="#666666">870</text>
<path d="M763 0L583 0L583 1147Q518 1085 412.5 1023Q307 961 223 930L223 1104Q374 1175 487 1276Q600 1377 647 1472L763 1472Z" fill="#666666" transform="translate(373.57,247.40) scale(0.006348,-0.006348)"/><text x="380.50" y="247.40" transform="rotate(0.03 380.5 247.4)" font-size="13.0" letter-spacing="0.3" fill="#666666">875</text>
<text x="50.07" y="224.00" transform="rotate(0.03 50.1 224.0)" font-size="13.0" letter-spacing="0.3" fill="#666666">0</text>
<text x="35.02" y="182.37" transform="rotate(0.03 35.0 182.4)" font-size="13.0" letter-spacing="0.3" fill="#666666">200</text>
<text x="35.02" y="140.74" transform="rotate(0.03 35.0 140.7)" font-size="13.0" letter-spacing="0.3" fill="#666666">400</text>
<text x="35.02" y="99.11" transform="rotate(0.03 35.0 99.1)" font-size="13.0" letter-spacing="0.3" fill="#666666">600</text>
<text x="35.02" y="57.48" transform="rotate(0.03 35.0 57.5)" font-size="13.0" letter-spacing="0.3" fill="#666666">800</text>
<path d="M763 0L583 0L583 1147Q518 1085 412.5 1023Q307 961 223 930L223 1104Q374 1175 487 1276Q600 1377 647 1472L763 1472Z" fill="#666666" transform="translate(28.09,15.85) scale(0.006348,-0.006348)"/><text x="35.02" y="15.85" transform="rotate(0.03 35.0 15.8)" font-size="13.0" letter-spacing="0.3" fill="#666666">000</text>
<text x="247.65" y="275.1" transform="rotate(0.03 248.1 275.2)" text-anchor="middle" font-size="16.5" font-style="italic" fill="#555" stroke="#555" stroke-width="0.25">τ</text>
<text transform="translate(17.2,130.3) rotate(-90.03) scale(1,1.12)" font-size="17" font-style="italic" fill="#555" stroke="#555" stroke-width="0.15">M</text>
<text transform="translate(20.2,115.6) rotate(-90.03)" font-size="12.9" fill="#555">eff</text>
</svg>
</body></html>
